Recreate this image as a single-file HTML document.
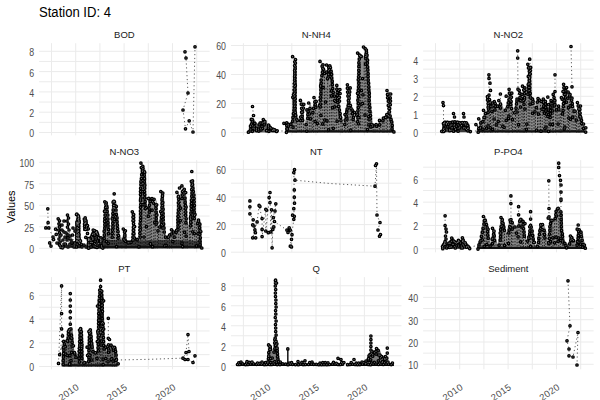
<!DOCTYPE html><html><head><meta charset="utf-8"><style>html,body{margin:0;padding:0;background:#fff;width:600px;height:400px;overflow:hidden}svg{display:block}text{font-family:"Liberation Sans",Arial,sans-serif}</style></head><body>
<svg width="600" height="400" viewBox="0 0 600 400">
<rect width="600" height="400" fill="#fff"/>
<path d="M39.1 132.5H209.6M39.1 112.2H209.6M39.1 91.9H209.6M39.1 71.6H209.6M39.1 51.3H209.6M39.1 122.35H209.6M39.1 102.05H209.6M39.1 81.75H209.6M39.1 61.45H209.6M51.5 43.2V135.4M75.7 43.2V135.4M99.9 43.2V135.4M124.1 43.2V135.4M148.3 43.2V135.4M172.5 43.2V135.4M196.7 43.2V135.4M231 132.5H401.5M231 103.5H401.5M231 74.5H401.5M231 45.5H401.5M231 118H401.5M231 89H401.5M231 60H401.5M243.4 43.2V135.4M267.6 43.2V135.4M291.8 43.2V135.4M316 43.2V135.4M340.2 43.2V135.4M364.4 43.2V135.4M388.6 43.2V135.4M423.1 132.5H593.6M423.1 114.4H593.6M423.1 96.3H593.6M423.1 78.2H593.6M423.1 60.1H593.6M423.1 123.45H593.6M423.1 105.35H593.6M423.1 87.25H593.6M423.1 69.15H593.6M423.1 51.05H593.6M435.5 43.2V135.4M459.7 43.2V135.4M483.9 43.2V135.4M508.1 43.2V135.4M532.3 43.2V135.4M556.5 43.2V135.4M580.7 43.2V135.4M39.1 248.3H209.6M39.1 226.8H209.6M39.1 205.3H209.6M39.1 183.8H209.6M39.1 162.3H209.6M39.1 237.55H209.6M39.1 216.05H209.6M39.1 194.55H209.6M39.1 173.05H209.6M51.5 160.1V252.3M75.7 160.1V252.3M99.9 160.1V252.3M124.1 160.1V252.3M148.3 160.1V252.3M172.5 160.1V252.3M196.7 160.1V252.3M231 252.2H401.5M231 224.6H401.5M231 197H401.5M231 169.4H401.5M231 238.4H401.5M231 210.8H401.5M231 183.2H401.5M243.4 160.1V252.3M267.6 160.1V252.3M291.8 160.1V252.3M316 160.1V252.3M340.2 160.1V252.3M364.4 160.1V252.3M388.6 160.1V252.3M423.1 248.75H593.6M423.1 225.45H593.6M423.1 202.15H593.6M423.1 178.85H593.6M423.1 237.1H593.6M423.1 213.8H593.6M423.1 190.5H593.6M423.1 167.2H593.6M435.5 160.1V252.3M459.7 160.1V252.3M483.9 160.1V252.3M508.1 160.1V252.3M532.3 160.1V252.3M556.5 160.1V252.3M580.7 160.1V252.3M39.1 366.5H209.6M39.1 342.8H209.6M39.1 319.1H209.6M39.1 295.4H209.6M39.1 354.65H209.6M39.1 330.95H209.6M39.1 307.25H209.6M39.1 283.55H209.6M51.5 277.1V369.3M75.7 277.1V369.3M99.9 277.1V369.3M124.1 277.1V369.3M148.3 277.1V369.3M172.5 277.1V369.3M196.7 277.1V369.3M231 365.75H401.5M231 345.75H401.5M231 325.75H401.5M231 305.75H401.5M231 285.75H401.5M231 355.75H401.5M231 335.75H401.5M231 315.75H401.5M231 295.75H401.5M243.4 277.1V369.3M267.6 277.1V369.3M291.8 277.1V369.3M316 277.1V369.3M340.2 277.1V369.3M364.4 277.1V369.3M388.6 277.1V369.3M423.1 364.3H593.6M423.1 342H593.6M423.1 319.7H593.6M423.1 297.4H593.6M423.1 353.15H593.6M423.1 330.85H593.6M423.1 308.55H593.6M423.1 286.25H593.6M435.5 277.1V369.3M459.7 277.1V369.3M483.9 277.1V369.3M508.1 277.1V369.3M532.3 277.1V369.3M556.5 277.1V369.3M580.7 277.1V369.3" stroke="#ebebeb" stroke-width="1" fill="none"/>
<text x="39" y="17" font-size="14" textLength="72" lengthAdjust="spacingAndGlyphs" fill="#000">Station ID: 4</text>
<text transform="translate(15.2 206.8) rotate(-90)" text-anchor="middle" font-size="11" fill="#000">Values</text>
<text x="124.35" y="38.3" text-anchor="middle" font-size="9.5" fill="#1a1a1a">BOD</text>
<text transform="translate(34.1 137.4) scale(0.88 1)" text-anchor="end" font-size="10" fill="#4d4d4d">0</text>
<text transform="translate(34.1 117.1) scale(0.88 1)" text-anchor="end" font-size="10" fill="#4d4d4d">2</text>
<text transform="translate(34.1 96.8) scale(0.88 1)" text-anchor="end" font-size="10" fill="#4d4d4d">4</text>
<text transform="translate(34.1 76.5) scale(0.88 1)" text-anchor="end" font-size="10" fill="#4d4d4d">6</text>
<text transform="translate(34.1 56.2) scale(0.88 1)" text-anchor="end" font-size="10" fill="#4d4d4d">8</text>
<text x="316.25" y="38.3" text-anchor="middle" font-size="9.5" fill="#1a1a1a">N-NH4</text>
<text transform="translate(226 137.4) scale(0.88 1)" text-anchor="end" font-size="10" fill="#4d4d4d">0</text>
<text transform="translate(226 108.4) scale(0.88 1)" text-anchor="end" font-size="10" fill="#4d4d4d">20</text>
<text transform="translate(226 79.4) scale(0.88 1)" text-anchor="end" font-size="10" fill="#4d4d4d">40</text>
<text transform="translate(226 50.4) scale(0.88 1)" text-anchor="end" font-size="10" fill="#4d4d4d">60</text>
<text x="508.35" y="38.3" text-anchor="middle" font-size="9.5" fill="#1a1a1a">N-NO2</text>
<text transform="translate(418.1 137.4) scale(0.88 1)" text-anchor="end" font-size="10" fill="#4d4d4d">0</text>
<text transform="translate(418.1 119.3) scale(0.88 1)" text-anchor="end" font-size="10" fill="#4d4d4d">1</text>
<text transform="translate(418.1 101.2) scale(0.88 1)" text-anchor="end" font-size="10" fill="#4d4d4d">2</text>
<text transform="translate(418.1 83.1) scale(0.88 1)" text-anchor="end" font-size="10" fill="#4d4d4d">3</text>
<text transform="translate(418.1 65) scale(0.88 1)" text-anchor="end" font-size="10" fill="#4d4d4d">4</text>
<text x="124.35" y="155.2" text-anchor="middle" font-size="9.5" fill="#1a1a1a">N-NO3</text>
<text transform="translate(34.1 253.2) scale(0.88 1)" text-anchor="end" font-size="10" fill="#4d4d4d">0</text>
<text transform="translate(34.1 231.7) scale(0.88 1)" text-anchor="end" font-size="10" fill="#4d4d4d">25</text>
<text transform="translate(34.1 210.2) scale(0.88 1)" text-anchor="end" font-size="10" fill="#4d4d4d">50</text>
<text transform="translate(34.1 188.7) scale(0.88 1)" text-anchor="end" font-size="10" fill="#4d4d4d">75</text>
<text transform="translate(34.1 167.2) scale(0.88 1)" text-anchor="end" font-size="10" fill="#4d4d4d">100</text>
<text x="316.25" y="155.2" text-anchor="middle" font-size="9.5" fill="#1a1a1a">NT</text>
<text transform="translate(226 257.1) scale(0.88 1)" text-anchor="end" font-size="10" fill="#4d4d4d">0</text>
<text transform="translate(226 229.5) scale(0.88 1)" text-anchor="end" font-size="10" fill="#4d4d4d">20</text>
<text transform="translate(226 201.9) scale(0.88 1)" text-anchor="end" font-size="10" fill="#4d4d4d">40</text>
<text transform="translate(226 174.3) scale(0.88 1)" text-anchor="end" font-size="10" fill="#4d4d4d">60</text>
<text x="508.35" y="155.2" text-anchor="middle" font-size="9.5" fill="#1a1a1a">P-PO4</text>
<text transform="translate(418.1 253.65) scale(0.88 1)" text-anchor="end" font-size="10" fill="#4d4d4d">0</text>
<text transform="translate(418.1 230.35) scale(0.88 1)" text-anchor="end" font-size="10" fill="#4d4d4d">2</text>
<text transform="translate(418.1 207.05) scale(0.88 1)" text-anchor="end" font-size="10" fill="#4d4d4d">4</text>
<text transform="translate(418.1 183.75) scale(0.88 1)" text-anchor="end" font-size="10" fill="#4d4d4d">6</text>
<text x="124.35" y="272.2" text-anchor="middle" font-size="9.5" fill="#1a1a1a">PT</text>
<text transform="translate(34.1 371.4) scale(0.88 1)" text-anchor="end" font-size="10" fill="#4d4d4d">0</text>
<text transform="translate(34.1 347.7) scale(0.88 1)" text-anchor="end" font-size="10" fill="#4d4d4d">2</text>
<text transform="translate(34.1 324) scale(0.88 1)" text-anchor="end" font-size="10" fill="#4d4d4d">4</text>
<text transform="translate(34.1 300.3) scale(0.88 1)" text-anchor="end" font-size="10" fill="#4d4d4d">6</text>
<text x="316.25" y="272.2" text-anchor="middle" font-size="9.5" fill="#1a1a1a">Q</text>
<text transform="translate(226 370.65) scale(0.88 1)" text-anchor="end" font-size="10" fill="#4d4d4d">0</text>
<text transform="translate(226 350.65) scale(0.88 1)" text-anchor="end" font-size="10" fill="#4d4d4d">2</text>
<text transform="translate(226 330.65) scale(0.88 1)" text-anchor="end" font-size="10" fill="#4d4d4d">4</text>
<text transform="translate(226 310.65) scale(0.88 1)" text-anchor="end" font-size="10" fill="#4d4d4d">6</text>
<text transform="translate(226 290.65) scale(0.88 1)" text-anchor="end" font-size="10" fill="#4d4d4d">8</text>
<text x="508.35" y="272.2" text-anchor="middle" font-size="9.5" fill="#1a1a1a">Sediment</text>
<text transform="translate(418.1 369.2) scale(0.88 1)" text-anchor="end" font-size="10" fill="#4d4d4d">10</text>
<text transform="translate(418.1 346.9) scale(0.88 1)" text-anchor="end" font-size="10" fill="#4d4d4d">20</text>
<text transform="translate(418.1 324.6) scale(0.88 1)" text-anchor="end" font-size="10" fill="#4d4d4d">30</text>
<text transform="translate(418.1 302.3) scale(0.88 1)" text-anchor="end" font-size="10" fill="#4d4d4d">40</text>
<text transform="translate(75.7 382.5) rotate(-35)" text-anchor="end" font-size="9.4" letter-spacing="0.4" fill="#4d4d4d" dominant-baseline="hanging">2010</text>
<text transform="translate(124.1 382.5) rotate(-35)" text-anchor="end" font-size="9.4" letter-spacing="0.4" fill="#4d4d4d" dominant-baseline="hanging">2015</text>
<text transform="translate(172.5 382.5) rotate(-35)" text-anchor="end" font-size="9.4" letter-spacing="0.4" fill="#4d4d4d" dominant-baseline="hanging">2020</text>
<text transform="translate(267.6 382.5) rotate(-35)" text-anchor="end" font-size="9.4" letter-spacing="0.4" fill="#4d4d4d" dominant-baseline="hanging">2010</text>
<text transform="translate(316 382.5) rotate(-35)" text-anchor="end" font-size="9.4" letter-spacing="0.4" fill="#4d4d4d" dominant-baseline="hanging">2015</text>
<text transform="translate(364.4 382.5) rotate(-35)" text-anchor="end" font-size="9.4" letter-spacing="0.4" fill="#4d4d4d" dominant-baseline="hanging">2020</text>
<text transform="translate(459.7 382.5) rotate(-35)" text-anchor="end" font-size="9.4" letter-spacing="0.4" fill="#4d4d4d" dominant-baseline="hanging">2010</text>
<text transform="translate(508.1 382.5) rotate(-35)" text-anchor="end" font-size="9.4" letter-spacing="0.4" fill="#4d4d4d" dominant-baseline="hanging">2015</text>
<text transform="translate(556.5 382.5) rotate(-35)" text-anchor="end" font-size="9.4" letter-spacing="0.4" fill="#4d4d4d" dominant-baseline="hanging">2020</text>
<path d="M287.8 349L287.8 363" stroke="#222" stroke-width="1.6" fill="none"/>
<path d="M248.5 132.5L248.5 131L249 126L251 121L252.5 118L254 119L256 122L258 124L260 121L262 121L264.5 119L266 122L268 125L270 124L272 127L274 128L276 129L277.5 131L277.5 132.5Z" fill="#666"/>
<path d="M285 132.5L285 132L285.5 122L286.8 123.6L288 121.5L289.5 123.6L291 121L292.5 110L293 70L294.5 56L296.5 62L297 112L298 119L299 119.6L300 118L301 112L302.4 100L303.5 112L304.5 124L306 118L307 108L308.3 107.9L310.3 102.4L312 108L313.5 104L315.6 97.6L317 106L318.5 107L319.5 80L320.5 75.6L321.6 61L323.5 66L324.5 71.1L325.5 69L326.5 77.1L327.6 64L329.5 66L331.2 65.2L333 71L334.5 88L336.5 100L337.5 101.1L338.6 85.6L339.5 102L341 109.6L343 124L345 112L347 102L348.9 84.4L350 100L352 105L353.1 111.5L354 110L354.9 117.2L356 121.6L356.5 100L357 70L358 55L359 52L361 54L363 56L364.1 58.5L365 46L366.5 48L368 52L369 60L370 80L371 100L372 115L372.5 122.8L374 124L375.5 125.3L377 123L378 123.9L380 119L381.6 119.7L383 116.8L384.4 116.6L386 113.2L388 112L389 90.4L390 105L391.5 115.6L393.5 122L394 132L394 132.5Z" fill="#8c8c8c"/>
<path d="M442 132.3L442 131.5L442.5 122L445 120.5L450 121L455 120.5L460 121L465 121L468 122L469.5 125L470 131.5L470 132.3Z" fill="#3a3a3a"/>
<path d="M476.5 132.5L476.5 132L477.5 124L478.6 127L480 118L481.2 120.7L483 116.8L484.8 109.6L486.5 112L488 96L489 96.4L490 110.9L491 99L492 102.4L493 109.8L494 102.4L495.6 101.2L497 104.8L499 104L500.4 100L502 103.6L504 109.6L506 106L508 96L509.2 101L510.5 89.2L512 100L514 112L515.5 100L517.5 97.6L519.5 98L521 90L522.1 104.1L523.3 87L524.4 85.6L526 94L527.5 80L529.7 64L531 71.2L532 100L534 99L534.9 107.2L536 101L538 99L539.5 97.6L541 100L543 100L545 98.8L546.1 116.5L547 101L548.4 117.1L549.7 96.9L551 102.4L553 100L555 94L556.5 104L558 107.2L560 106L561 113.6L562.4 96.4L564 97.6L565 84.4L566.5 97.6L568 95L569.6 91.6L570.6 97.7L571.5 94L573 100L575 109.6L577 111L577.9 116.4L579 102.4L581 112L583 120L583.9 127.1L585 124L585.5 132L585.5 132.5Z" fill="#8c8c8c"/>
<path d="M75.2 248.3L75.2 241L75.5 222L77.9 213.3L80 216L80.5 241L80.5 248.3Z" fill="#555"/>
<path d="M83 231L83 229L83.5 220L85.2 217.9L87.5 220L88.3 229L88.3 231Z" fill="#555"/>
<path d="M86.5 248.3L86.5 248L87 236L88.6 237.5L90 237.5L90.9 237.3L92 233L93 232.9L95 229.5L96 232.4L97.1 231.2L98 232L100 237.5L101.3 238.7L102.5 238L103.5 215L104.5 203L106.2 200.7L108 203L109.3 215L110.5 237L111.6 210L112.5 201L114.5 200L116 201L117.5 210L118.5 218L120 235L122 239L124 230L124.9 228.6L126 232L127 240L128.2 241L130 241L131.5 240L132.3 214L133.6 211L134.8 214L135.5 237L136.6 237.9L138.5 237L139.2 181.5L141 168L142.4 162.7L143.3 171.9L144.5 166L145.9 172L146.5 198L147.2 212L148 205L149 197L150.6 197.9L151.8 202.5L153.5 198L155.1 204.8L156 199L157.5 205L158.5 226L159.5 224.4L160.5 200L161.5 192L162.6 191L164 195L165 220L166 235.5L167.5 236L168.7 233.8L170 233L172 231L173 229L175 231.3L176.2 230L177 196L178.7 192L180 198.1L181 187.8L182.2 192.4L183.3 185.6L184.3 191.5L185.5 190L187 202L187.8 222L189 226L189.8 200L190.5 182L191.8 180L194 181L195.5 195L196.3 222L198 220L200 219.8L201.5 224L202 248L202 248.3Z" fill="#8c8c8c"/>
<path d="M87 248.3L87 241L110 240L140 240.5L170 240L202 241L202 248.3Z" fill="#3c3c3c"/>
<path d="M440.9 249L440.9 248.5L442 244L444 242L446 241L448 242L450 240L453.3 237.4L455 240L457 241L459 239L461 240L463.9 237.4L465 241L467 243L469.8 246L470 248.5L470 249Z" fill="#444"/>
<path d="M476.5 249L476.5 248.5L477.6 244.3L479.5 240L480.5 232L481.5 227.8L483 220L485 215.7L487 220L489 227.8L489.8 238L490.6 243.6L491.4 238L492.5 230L493.8 227.8L495.5 231L496.3 240L497.2 244.8L498.5 240L499.5 226L501 219L502.3 216.9L504 220L506 230L507 232.7L508 226L509.5 221L511.3 219.3L513.5 222L515 225.4L517.3 225.4L518.5 220L520 218.5L522.2 218.1L524.5 221L525.8 232L526.3 240L527.5 238L528.5 230L530.7 225.4L533 227L534.3 235L535.5 246L537 242L538.4 230L540 224L541.6 223L544 224.2L546 230L546.8 238L547.2 242.4L548 230L549.6 216.9L551.5 219L553.7 218L555 210L557.4 207.2L560 207.5L562.5 212L563.4 230L564.5 240L565.9 243.6L568.3 243.6L569.5 238L571.5 235.1L573.5 237L574.9 240L575.6 244.8L576.5 235L578 227.8L580.4 229L582.5 232L584 240L585.3 248.5L585.3 249Z" fill="#8c8c8c"/>
<path d="M61.5 366.5L61.5 364L62 350L63 343L64.5 340L66 341L67 331L68 329L70.3 328L72.5 329L73.2 335L73.8 346L74.5 352L76 352L77.5 358L78.3 335L79 328.5L80.9 327.7L82.5 328.5L83.2 335L83.6 358L84.5 361L87 361L87.6 340L88.3 330L90.3 328.9L92 329.5L92.6 336L93.5 346.5L95 351.2L96.5 351L97 320L97.5 300L98.5 292L100.6 289L102.5 290L103.5 295L104 315L104.6 330L105.5 345L106.5 352L107.5 345L110 344.2L111 346L112.3 344.2L114 346.5L116.5 347L117.5 355L118.2 364L118.2 366.5Z" fill="#6a6a6a"/>
<path d="M266.5 364L266.5 362L267.4 352.4L269 346L270.2 344.2L271.5 346L272.6 352L273.5 345L274.5 338L277 338L278.5 348L280 362L280 364Z" fill="#7d7d7d"/>
<path d="M366.3 364L366.3 362L367.5 355L369 353L370.5 352L372 350L375 350L378.1 347.5L380 350L381.3 354L383 355.5L384.4 357L386 357L387.3 356L388 362L388 364Z" fill="#7d7d7d"/>
<path d="M87 248.3L87 248L87.5 238L90 236L92 232L95 229.5L98 231L100 236L102.5 238L103 248L103 248.3Z" fill="#3a3a3a"/>
<path d="M75.2 248.3L75.2 241L75.5 222L77.9 213.3L80 216L80.5 241L80.5 248.3Z" fill="#444"/>
<path d="M286 124.7V132.5M287.7 123.3V132.5M289 126.6V132.5M290.8 124.1V132.5M292.9 82.9V132.5M295 77.1V132.5M296.4 68.1V132.5M297.9 120.5V132.5M299.7 120.6V132.5M301.3 111.1V132.5M303.4 114.6V132.5M305.1 124.5V132.5M307.2 112.1V132.5M309.3 110.2V132.5M311 110.2V132.5M312.3 111.6V132.5M313.7 104.6V132.5M315.7 100.7V132.5M317.3 112.9V132.5M319.1 96.4V132.5M320.8 82.5V132.5M322.8 67.3V132.5M324.5 76.6V132.5M326 87.9V132.5M327.7 76.7V132.5M329.7 85.1V132.5M331.3 78.9V132.5M333 81.8V132.5M334.9 97.3V132.5M336.7 105.8V132.5M338.8 99.4V132.5M340.9 116.6V132.5M342.3 122.5V132.5M344.5 120.5V132.5M345.8 109.8V132.5M347.5 99.5V132.5M348.9 86.5V132.5M350.8 110.1V132.5M352.9 112.3V132.5M354.8 120.4V132.5M356.1 121.4V132.5M358.3 60.3V132.5M360.4 63.9V132.5M362.1 79.1V132.5M364.2 61.7V132.5M365.8 61.3V132.5M367.3 56.1V132.5M368.9 75.8V132.5M370.1 91V132.5M371.7 111.9V132.5M373.2 126.1V132.5M375 126V132.5M377.1 126.3V132.5M379.3 122.1V132.5M380.8 120.5V132.5M382.8 119.5V132.5M384.1 119.6V132.5M386.2 118.8V132.5M387.7 114.1V132.5M389.8 108.1V132.5M391.7 117.6V132.5M392.9 123.7V132.5M477.5 125.5V132.5M478.8 126.6V132.5M480.9 124V132.5M482.7 122.2V132.5M484.5 113.6V132.5M485.8 112.7V132.5M487.8 101.4V132.5M489.3 105.7V132.5M490.5 108V132.5M492 109.9V132.5M493.6 109.2V132.5M495.7 107.2V132.5M497.8 110.7V132.5M499 108.5V132.5M500.7 109V132.5M502.2 111.2V132.5M503.9 111.9V132.5M506 107.7V132.5M508 99V132.5M509.2 103.9V132.5M511.2 106.4V132.5M512.4 107.8V132.5M514.1 117.4V132.5M515.5 106V132.5M517 107.7V132.5M518.5 108.6V132.5M520 98.9V132.5M521.9 106.8V132.5M523.2 98.6V132.5M524.4 97.9V132.5M526.3 101.6V132.5M528.2 82.2V132.5M529.8 73.5V132.5M531.9 98.1V132.5M534 100.3V132.5M535.4 107.9V132.5M537.5 105.5V132.5M539 108.2V132.5M540.5 104.8V132.5M542.2 108.4V132.5M544.2 106.7V132.5M545.7 113.7V132.5M547.1 110.5V132.5M548.9 114.9V132.5M550.3 104.8V132.5M552.3 107.4V132.5M553.6 104V132.5M555.7 101.9V132.5M557.1 108.7V132.5M559 114.2V132.5M560.3 110.5V132.5M561.8 108.1V132.5M563.5 99.9V132.5M565 88.3V132.5M567.2 105.3V132.5M568.5 106.1V132.5M569.8 98.4V132.5M572 105.7V132.5M573.9 109.1V132.5M575.3 115.2V132.5M576.6 113.1V132.5M578.2 114V132.5M579.8 113.5V132.5M581.7 118.5V132.5M583.5 126.2V132.5M87.5 238.6V248.3M88.9 239.2V248.3M90.7 239.6V248.3M92.4 234V248.3M94 236.6V248.3M95.4 234.7V248.3M97.1 233.7V248.3M99.3 237.7V248.3M101.3 240.2V248.3M102.5 240.9V248.3M104.2 208.5V248.3M105.8 208.5V248.3M107.7 205.1V248.3M109.1 224.5V248.3M111.1 225V248.3M112.6 207V248.3M114.5 209.9V248.3M116.5 216.1V248.3M118.3 224.2V248.3M120.2 239.3V248.3M121.9 242V248.3M123.8 236.7V248.3M125.1 235.2V248.3M126.3 238.7V248.3M128.1 243.1V248.3M130.3 243.1V248.3M131.9 233.5V248.3M134 219.5V248.3M135.5 239.6V248.3M137.2 241V248.3M138.7 226.4V248.3M140.4 182V248.3M142 185.2V248.3M144 181.4V248.3M145.7 176.2V248.3M147.2 213.8V248.3M148.9 207.4V248.3M150.2 212.7V248.3M151.7 214.9V248.3M153.8 214.3V248.3M155.2 210.7V248.3M157.3 205.3V248.3M158.5 230.7V248.3M160.2 218.8V248.3M162.2 201.5V248.3M164.4 213.1V248.3M166.1 239.2V248.3M167.7 238V248.3M169.5 235.9V248.3M171.7 235.8V248.3M173.4 231V248.3M175 234.3V248.3M176.7 215.6V248.3M178.8 209.6V248.3M180.5 201.4V248.3M182.3 209.7V248.3M183.9 199.4V248.3M185.9 196.9V248.3M187.4 223.6V248.3M189.4 218.8V248.3M190.7 200.5V248.3M192.6 198.1V248.3M194.8 205.5V248.3M196.4 224.1V248.3M197.9 225.4V248.3M199.6 222.4V248.3M477.5 246.3V249M479.6 241.1V249M481 236.3V249M483.1 227.2V249M484.6 219.3V249M486.1 219.6V249M487.3 226.4V249M488.9 232V249M490.5 243.7V249M492.4 235.6V249M494.1 232.8V249M496 241.2V249M498.1 244.2V249M499.7 228.5V249M501.3 228.4V249M502.9 222.5V249M504.5 224.5V249M506.7 232.9V249M508.5 232.2V249M509.9 226.8V249M511.5 222.7V249M512.9 223.3V249M515 231.9V249M517.1 226.8V249M519 223.4V249M520.8 224.4V249M522.3 228.2V249M523.5 227.3V249M525.6 234V249M527.4 242.4V249M528.8 234.1V249M530.7 229.1V249M532.7 230.4V249M534.4 239.2V249M536.3 245.4V249M538.1 236.3V249M539.5 231.1V249M541 231.4V249M542.7 230V249M544.4 229.7V249M545.8 231.2V249M547.9 235V249M549.6 223V249M551.7 222.1V249M553 226.9V249M554.7 220V249M556.7 220V249M558.8 208.9V249M560.4 219.4V249M562.4 214.2V249M563.7 235.3V249M565 243.2V249M567 245.4V249M568.7 242.9V249M570.3 241.5V249M572.2 238.5V249M573.9 241.5V249M575.8 243.6V249M577.7 232.4V249M579.4 231V249M581 232.8V249M582.6 233.5V249M584 242.5V249M62.5 351.4V366.5M64.5 343.7V366.5M66.3 345.9V366.5M68.3 329.9V366.5M70 329.3V366.5M71.3 338.7V366.5M72.9 339.9V366.5M74.6 354.5V366.5M76 354.6V366.5M78.1 347.5V366.5M79.6 330.3V366.5M81 336.9V366.5M82.7 338.3V366.5M84.7 362.2V366.5M86.6 362.1V366.5M88.6 332.9V366.5M90 340.8V366.5M91.6 332.9V366.5M93.7 351.7V366.5M95.8 353.9V366.5M97.5 320.3V366.5M99.2 314.4V366.5M100.6 309.3V366.5M102 302.9V366.5M103.2 298.1V366.5M105.3 346V366.5M107.3 348.9V366.5M108.9 346.2V366.5M110.6 351.8V366.5M112.3 347.8V366.5M114.5 352.9V366.5M116.3 348.4V366.5" fill="none" stroke="#111" stroke-width="0.9" stroke-dasharray="1.6 1.4"/>
<path d="M286 131.3H393M477.5 131.3H584.5M87.5 247.1H201M477.5 247.8H584.3M62.5 365.3H117.2M237 365H343.5M346 365H394" fill="none" stroke="#111" stroke-width="2.2"/>
<path d="M185 51.8L186 58L188 93L183 110L185.5 128.8L189.2 120.8L193 132L195 46.8M252.5 106.5L253.5 116M277.5 131L285 131M443 102.5L443.5 105.5L443.5 120M471 131L477 131M489 74.8L489 96M500.4 94L500.4 100M517.7 50.8L517.7 58L518 89.2L518 97.6M555 74.8L555 91.6M571 46.5L572 86.8M530 59L530 72M47.8 208.8L48.1 222.7L45.8 227.9L48.8 227.9L53 237L49.7 242.9L51 246.1L56.2 234.4L58.2 218.8L62 230L72.5 235L66 246L67.5 215L70 236L72 245.8L77.9 213.3M249.9 200.9L249.9 213.8L253.2 219.8L254.9 229.9L252.7 237.8L257.1 221.9L259.1 205.4L262.1 218.5L262.1 236.6L265.8 209.3L265.8 231L270 192.5L270.8 231.9L271.6 209.8L272.1 247.8L273.3 217.7L275.8 203.8L274.5 221.5L286.9 230.1M286.9 230.1L289.2 227.8L292 234.7L291.5 246.9L290.3 246.2L293.8 219.3L294.3 197.2L293.8 172.6L294.5 169.7L295 180.2L330 183.5L375 186.2L376.5 163.8L377 215L380 222.5L378 230L380.5 234.5M445.1 215.8L445.1 241M469.8 247L477.4 245.6M510.9 195.9L511 222M518.6 206.7L518.6 218M530.6 211.7L530.6 226M548.8 180.8L549 216.8M558.7 163.2L561 207M58.5 363.4L61.6 285.9L61.6 328.9L62.5 335.9L59.7 354.7L63 345M70.3 293.6L70.3 328M100.6 280.2L100.6 290M108.3 318.3L108.3 338.3M117 360L150 359.3L181.2 358.2M181.2 358.2L183 358.2L186 352.5L188 334.5L189 351.5L185 359.5L188 359.5L193 362.5L195 355.8M237 364.3L343 364.3M346 364.3L394 364.3M387.3 348.1L387.3 356M568 280.8L570 325.8L567 340.8L569 349L569 355.8L573 357L578 332.5L577 365" fill="none" stroke="#333" stroke-width="0.8" stroke-dasharray="1.2 2.7"/>
<path d="M185 51.8h0M186 58h0M188 93h0M183 110h0M185.5 128.8h0M189.2 120.8h0M193 132h0M195 46.8h0M250.1 131h0M250.7 126.4h0M251.6 124.1h0M252.3 121.8h0M251.3 119.4h0M252.3 119.7h0M254.8 123.4h0M259.2 124.8h0M260.1 123h0M263.1 122.3h0M263.3 119.5h0M264.8 122.8h0M268.5 126.3h0M268.5 125.1h0M271 128.6h0M273.3 129.4h0M274.7 129.8h0M277.2 130.8h0M248.4 132.2h0M250.5 126.1h0M250.8 129.2h0M252.6 125.8h0M252.9 128.3h0M252.3 131.3h0M254.4 129h0M254.2 126.3h0M254 128.1h0M256.6 130.6h0M256.3 129.2h0M256.6 128.3h0M258.8 131.1h0M258.5 129.2h0M260.7 128.3h0M261 129.9h0M262.4 128.4h0M262 126.4h0M262.2 123.2h0M264.8 121.9h0M264.2 124.8h0M264.9 121.4h0M266.5 130.7h0M266.8 130.5h0M268.4 128.1h0M268.9 131.3h0M270.2 127.5h0M272.5 130.4h0M274 130.5h0M276.6 131.5h0M252.5 106.5h0M253.5 115.5h0M286.4 132.3h0M286.9 128.9h0M286.8 125.6h0M283.9 123.3h0M288.2 124.4h0M286.7 122.8h0M290.9 124.2h0M292.7 121.1h0M293 117.4h0M293.4 113.7h0M294.1 109.9h0M294.4 106.6h0M294.3 103.2h0M294.2 99.7h0M294.2 96.4h0M294.5 93.4h0M294.3 90h0M294.8 86.5h0M294.7 83.3h0M294.6 80.2h0M294.6 76.7h0M294.8 73.6h0M294.6 70.4h0M295.2 66.8h0M295.4 63.1h0M295.5 59.5h0M292.6 56.7h0M294.7 61.8h0M294.6 65.6h0M295.1 68.8h0M294.8 71.9h0M294.8 75.3h0M294.8 78.7h0M294.9 82.3h0M295.3 85.4h0M294.9 89h0M295 91.9h0M294.8 95.3h0M295.2 98.7h0M295 102h0M294.9 105.2h0M295 108.6h0M295 112h0M295.7 115.6h0M297.2 120.5h0M300.7 120.6h0M301.8 118.5h0M302.6 112.1h0M303.4 108h0M303.8 104.3h0M300.4 100.4h0M301.3 104.2h0M301.6 108.3h0M301.6 112.2h0M302.1 116.3h0M302.7 120.3h0M306.2 124.6h0M307.8 118.3h0M307.9 114.6h0M308.1 111.4h0M306.9 109.9h0M310 108.5h0M308.7 103h0M313.6 108.3h0M315.3 104.7h0M316.2 101.4h0M314 97.6h0M314.8 101.9h0M315.8 107.3h0M320.3 106.9h0M320.5 104h0M320.4 100.2h0M320.6 97h0M320.9 93.6h0M320.9 89.9h0M320.7 86.7h0M321.2 83.3h0M321.2 80.1h0M321.9 75.6h0M322.5 72.2h0M322.8 68.3h0M323 64.8h0M320 61.4h0M322.1 66.2h0M326.3 72.1h0M323.5 69.2h0M324.5 73.5h0M328.2 77.1h0M328.3 74.2h0M328.6 70.7h0M328.8 67.4h0M326.6 65h0M330.4 67.5h0M329.8 65.8h0M331.1 71.4h0M331.6 74.3h0M331.6 77.9h0M332.2 81.2h0M332.3 84.7h0M332.7 88.5h0M333.2 92.4h0M334.4 96.1h0M335.5 101.3h0M339.5 101.1h0M339.4 97.3h0M340.1 93.5h0M339.9 89.5h0M336.8 85.4h0M336.8 89.2h0M337.1 92.5h0M337.3 95.4h0M337.6 98.6h0M337.8 102.6h0M338.8 106.3h0M339.4 110.1h0M340.1 113.5h0M340.4 116.8h0M341 120.6h0M344.8 124.4h0M345.2 120h0M346.3 116.1h0M346.7 112.2h0M347.2 109.1h0M348.3 105.5h0M348.8 102.1h0M349.1 98.6h0M349.3 94.9h0M349.7 91.9h0M350.2 87.9h0M347.4 84.8h0M347.4 88.2h0M347.6 92.1h0M347.9 96h0M348.3 100.5h0M350.4 105.5h0M351 108.5h0M354.4 112.4h0M352.2 110.1h0M352.5 113.7h0M353.5 117.3h0M357.7 121.7h0M358 117.9h0M357.7 114.3h0M357.9 110.8h0M358.3 107.4h0M358.3 103.4h0M357.9 100.2h0M358.5 96.7h0M358.4 93.1h0M358.3 90.3h0M358.6 86.9h0M358.8 83.2h0M358.3 79.8h0M358.6 76.8h0M358.9 73.5h0M358.8 70.3h0M358.9 66.4h0M358.9 62.8h0M359.3 59.1h0M359.7 55.4h0M357.6 53.1h0M359.9 55.3h0M361.2 56.4h0M365.8 58.7h0M366 54.3h0M366.4 50h0M363.5 47h0M365.2 48.7h0M366.5 52.2h0M366.7 56.1h0M367.6 60.2h0M367.4 63.1h0M367.6 66.9h0M367.8 69.9h0M368.1 73.7h0M368 76.5h0M368.2 80h0M368.6 83.2h0M368.8 86.9h0M368.8 89.9h0M369.3 93.3h0M369.3 96.6h0M369.1 100.3h0M369.4 104.1h0M369.8 107.4h0M369.9 111.3h0M370.4 115.4h0M370.3 118.9h0M371.3 124.4h0M372.7 125h0M376.7 126.2h0M376.1 124.5h0M379.7 124.8h0M379.5 120.4h0M382.9 120.7h0M383.4 118.2h0M386 117.2h0M386.8 114.6h0M389.5 111.8h0M389.7 108.4h0M390.3 104.7h0M390.5 101.1h0M390.3 97.9h0M390.7 94h0M387 90.5h0M387.5 94.4h0M387.6 97.7h0M388.3 101.2h0M388.3 105.4h0M389 108.5h0M389 112h0M390.1 116h0M391 119.5h0M391.7 121.9h0M392.2 125.5h0M392 128.9h0M393.9 131.9h0M287.4 129h0M288.5 126h0M293.5 94.7h0M292.8 97.3h0M293 127.2h0M295.3 112.5h0M295.3 115h0M296.8 119.3h0M300.6 117.1h0M302.7 109.6h0M306.8 131.1h0M309.5 113.9h0M310.6 118.8h0M312.9 112.6h0M315.1 121.5h0M317.3 123.4h0M319.3 105.7h0M320.9 115.4h0M320.7 85.4h0M322.7 123.9h0M323.1 87.5h0M325.5 102h0M324.7 120h0M327.5 78.7h0M327 120.9h0M329.4 69.6h0M328.8 74.7h0M328.7 129.8h0M331.4 90.9h0M331.4 95.9h0M333.3 128.3h0M332.6 107.7h0M334.7 106.9h0M334.6 100.5h0M337.1 121.2h0M338.5 106.5h0M340.7 117.5h0M345 114.6h0M346.9 118.9h0M348.6 94.6h0M349.2 105.4h0M350.8 130.2h0M353.1 119.4h0M357.5 93.3h0M356.7 115.2h0M358.5 123.8h0M358.9 117.5h0M361.4 90.5h0M360.7 56.6h0M361.1 104.2h0M362.6 103.5h0M362.9 94.8h0M362.6 78.5h0M365.4 56.6h0M365 115.1h0M365.5 64.1h0M367.4 129.5h0M367 55.1h0M368.9 124.8h0M369.1 119.2h0M368.7 116.5h0M370.9 126.9h0M372.7 126.2h0M385.4 117.4h0M387.3 114.8h0M388.6 115.6h0M389.1 116.7h0M389 94h0M389 104.8h0M349 90.4h0M349 94h0M349 97.6h0M338.6 90.4h0M338.6 97.6h0M443.7 131.5h0M444 128.4h0M444 125h0M443.4 123.5h0M444.7 122.3h0M447.5 122.4h0M450 122.7h0M452.4 122.2h0M454.8 121.9h0M457.3 122.4h0M459.7 122.8h0M462.2 122.8h0M464.6 122.6h0M466.2 122.8h0M467.7 125.4h0M467.8 128.6h0M470.3 131.6h0M441.7 131.3h0M444.5 130.6h0M443.7 129.5h0M444.4 123.2h0M446.3 123.6h0M446.4 124.6h0M446.3 123.4h0M448.4 124.2h0M447.8 126.9h0M447.8 122.6h0M449.7 130.7h0M450.2 130.4h0M449.7 129.4h0M452 128h0M451.9 130.2h0M452.1 127.5h0M453.6 131.2h0M454.1 125.7h0M454.3 124.5h0M454.5 127.4h0M456.3 126.2h0M455.7 128.9h0M455.5 129.6h0M458.1 131.2h0M458.1 128.3h0M457.8 122.3h0M459.6 127.9h0M459.9 127h0M460.4 123.7h0M462.2 122.7h0M461.5 125.6h0M461.6 125.6h0M464.1 127.7h0M463.7 128h0M464 123.7h0M465.7 124.1h0M465.6 128.2h0M466.4 129.5h0M465.9 125.1h0M468.1 127.9h0M467.9 128.5h0M467.9 130.8h0M443 102.5h0M443.5 105.5h0M453.5 113.5h0M454.5 117h0M463.5 113.5h0M464 117h0M478.2 132.2h0M478.8 128.5h0M475.9 124.6h0M480.4 127.3h0M480.8 122.9h0M478.7 118.8h0M482.8 121.7h0M484.8 117.3h0M485.5 113.5h0M483.5 110.3h0M488.1 112.3h0M488.6 109h0M488.6 105.7h0M489.1 102.6h0M489.3 99.5h0M487.6 97.4h0M487.4 96.7h0M487.5 100.1h0M488.1 103.5h0M488.1 107.2h0M491.9 111.3h0M492.1 106.8h0M492.4 103.1h0M489.5 99.5h0M490.4 102.8h0M490.8 106.3h0M495 109.9h0M495.3 106.3h0M495.2 103.5h0M494.3 101.7h0M497.4 106.2h0M500.5 104.3h0M498.8 100.6h0M500.5 104h0M505.3 110.3h0M507.8 106.6h0M508.3 102.8h0M509.2 99.6h0M506.2 96.2h0M511.1 101.4h0M511.4 97.2h0M511.8 93.2h0M509.1 89.3h0M509.4 93.2h0M510 96.6h0M510.2 100.3h0M510.8 104.5h0M511.6 108.5h0M515.5 112.1h0M516 108.2h0M516.5 103.9h0M516.9 101h0M517 99.1h0M521.2 98.3h0M522 94.4h0M519.2 90.4h0M519.8 93.4h0M520 97.4h0M520.3 100.5h0M524 104.3h0M523.7 100.5h0M524.6 97.5h0M524.4 93.7h0M524.6 90.4h0M524.9 87.9h0M522.5 86.2h0M523.7 89.9h0M527.9 94.2h0M528.2 90.8h0M528.7 87.4h0M529 83.5h0M529.3 80.3h0M529.8 77h0M530.3 73.9h0M530.4 70.5h0M530.7 67.4h0M527.8 64.3h0M528.5 67.9h0M529.3 71.3h0M529.6 74.2h0M529.7 77.6h0M529.7 81h0M529.9 84h0M529.8 87.5h0M529.7 90.5h0M530.2 93.4h0M530.3 97h0M533 101.4h0M532.6 99.2h0M532.8 103.5h0M536.3 107.7h0M537.3 102.1h0M539.4 100.2h0M538 98.5h0M541.2 101.5h0M543.8 101.4h0M543.3 99.1h0M543.4 102.6h0M543.7 106h0M543.8 109.6h0M544.4 113.2h0M547.9 116.5h0M547.9 112.6h0M548.3 109h0M548.6 104.7h0M545.4 101.4h0M545.6 104.1h0M545.7 107.3h0M545.9 111h0M546.5 114.1h0M550.2 117.4h0M550.4 113.9h0M550.6 110.6h0M550.8 107.2h0M550.8 103.8h0M551.1 100.5h0M547.8 97.1h0M552 103.7h0M554.9 100.6h0M553.2 94.4h0M554 97.6h0M554.2 100.8h0M554.9 104.6h0M558.8 108.7h0M558.6 106h0M558.9 109.8h0M562.5 113.9h0M563.1 110.5h0M563.3 106.6h0M563.5 103.5h0M564.1 100.3h0M561.4 97.7h0M565.5 97.8h0M565.8 94.2h0M565.9 90.8h0M566.6 87.6h0M563.6 84.3h0M563.9 87.7h0M563.8 91.3h0M564.3 94.6h0M567.8 98.2h0M569.7 95.9h0M568.1 92h0M572 98.2h0M570 94.4h0M571.6 100.2h0M572.3 103.7h0M572.4 106.5h0M574.1 111.2h0M575.1 111.2h0M579.8 116.3h0M580.1 113h0M579.9 109.4h0M580.5 106h0M577.4 102.5h0M578.2 105.9h0M578.8 109.2h0M579.3 112.3h0M580.5 116.7h0M581.5 120.3h0M581.7 123.5h0M585.8 127.8h0M583.5 124h0M583.6 128.4h0M585.7 132.1h0M480.4 128.1h0M482.9 129.2h0M484 117.4h0M486.6 128.2h0M488 125.9h0M488.8 127h0M490.3 127.8h0M492.7 129.4h0M494.1 119h0M496.2 124.9h0M498.2 121.4h0M500.5 107.9h0M502.8 126.3h0M504.1 127.4h0M506.2 120.4h0M508.9 116.2h0M508.5 118.4h0M510.2 98.1h0M512.4 119.7h0M514.5 112.8h0M517 112h0M518.6 124.7h0M520.6 107h0M522 101.1h0M524.9 109h0M524.6 99.1h0M526.4 129.3h0M526.8 124.1h0M528.3 76.4h0M528.2 84.6h0M530.1 104.2h0M530.9 98.1h0M532.9 103.2h0M532.6 113.3h0M535 111.8h0M536.6 130.2h0M538.4 114.1h0M541 131.2h0M542 109.2h0M544.9 128.6h0M546 127.1h0M548.6 131.3h0M550.1 124.2h0M552.7 110.9h0M552.6 124.4h0M554.3 105.9h0M556.5 109.9h0M558.1 124.1h0M562.2 99.2h0M564.2 128.9h0M564.9 127.2h0M566.4 102.2h0M568.8 118.1h0M568.5 107.7h0M570.5 119.3h0M570.1 105.9h0M572.7 117.2h0M576.3 120.1h0M580.8 117.9h0M488.9 74.8h0M489 78.4h0M490 83.2h0M490.5 90.4h0M489 95.2h0M500.4 94h0M517.7 50.8h0M517.7 58h0M518 89.2h0M529.7 59.2h0M529.5 78.4h0M530 68h0M555 74.8h0M555 91.6h0M563 91.6h0M571 46.5h0M572 86.8h0M579 108.4h0M47.8 208.8h0M48.1 222.7h0M45.8 227.9h0M48.8 227.9h0M55.6 229.2h0M56.2 234.4h0M53 237h0M53.6 239.5h0M49.7 242.9h0M51 246.1h0M58.2 218.8h0M59.5 220.8h0M59 224h0M59.5 227h0M58.8 230h0M59.5 233h0M60 236h0M59 239h0M60 242h0M59.5 245h0M61 247.5h0M62 230h0M64 232h0M66 233h0M68 235h0M70 236h0M72.5 235h0M63 240h0M64 244h0M66 246h0M62.5 247.8h0M67.5 215h0M68.5 218h0M67 221h0M68.5 224h0M67.5 227h0M69 230h0M68 238h0M69.9 244.2h0M68 247h0M71 240h0M72 245.8h0M74 247h0M81.3 244.3h0M80 240.4h0M87.5 233.4h0M85.2 217.9h0M86 221h0M84.5 224h0M86.5 227h0M85.5 229.5h0M89.5 245h0M91 247h0M94 246h0M97 247.5h0M76.8 241.3h0M76.7 238.1h0M76.7 234.9h0M77.2 231.4h0M77.1 228.2h0M77 225h0M77.1 222.7h0M78.2 219.8h0M78.5 216.5h0M76.8 214.1h0M78.4 215.9h0M78.7 218.9h0M78.6 222.2h0M78.3 225.1h0M78.7 228.5h0M78.4 231.6h0M78.9 234.6h0M78.8 237.7h0M80.3 241.2h0M74.9 242.9h0M77.3 232.2h0M77 223.5h0M77.3 238.5h0M77.5 234.8h0M78.8 239.1h0M79.1 238.7h0M78.8 241.5h0M79 242.4h0M84.9 229.1h0M84.6 226.3h0M85 223.3h0M84.7 220.9h0M84.3 219.1h0M85.6 220.1h0M86.1 222.9h0M86.4 226.1h0M88.3 228.8h0M85.4 223h0M85.2 223.6h0M86.6 228.9h0M87.5 225.5h0M88.3 248.1h0M88.3 244.4h0M88.6 239.8h0M85.8 237.4h0M88.5 239.3h0M90 239.1h0M92.8 237.8h0M92.4 234.5h0M94.4 233.8h0M93.2 230.1h0M97.2 233.9h0M96 232.5h0M96.2 232.4h0M99 238.5h0M102 240h0M104.2 238.3h0M104.4 235h0M104.2 231.2h0M104.8 228.1h0M104.9 224.8h0M104.7 221.5h0M104.8 218.6h0M105.2 215.1h0M105.5 211.1h0M105.6 207.4h0M105.9 204.3h0M104.8 201.8h0M106.2 202.9h0M107 207.4h0M107.1 211.4h0M107.8 215h0M107.9 219h0M108 222.7h0M108 226h0M108.5 229.6h0M108.5 233.7h0M112.2 237.2h0M112.2 233.5h0M112.4 230.1h0M112.9 226.8h0M112.8 223.3h0M112.9 220.1h0M113 216.6h0M112.9 213.6h0M113.2 210h0M113.6 205.5h0M113.1 202.2h0M113.7 201.3h0M114.1 201.4h0M114.8 205.6h0M116 210h0M116.3 214.4h0M117 217.9h0M117 221.7h0M117.3 225.2h0M117.5 228.6h0M118 231.6h0M118.5 235.5h0M123.8 239.2h0M124.9 234.9h0M125.4 230.8h0M123.3 229h0M124.5 232h0M124.8 236.2h0M125.7 241.4h0M128.1 242.8h0M131 242.3h0M133.1 239.8h0M133.1 237h0M133.3 233.6h0M133.3 230.3h0M133.5 227.1h0M133.6 223.5h0M133.7 220.4h0M133.7 217.4h0M133.7 214.6h0M132.3 211.8h0M133.3 214.3h0M133 217.2h0M133 220.7h0M133.5 223.8h0M133.4 227.3h0M133.7 230.3h0M133.9 233.7h0M134.5 238.1h0M137.2 239.7h0M140.3 237.1h0M140 233.5h0M140.1 230.3h0M140.2 227.2h0M140.1 223.8h0M140.5 220.5h0M140.7 217.5h0M140.6 214h0M140.5 211h0M140.5 207.3h0M140.8 204.5h0M140.5 200.8h0M140.9 197.9h0M140.5 194.4h0M140.5 191.5h0M140.6 188.3h0M141 184.5h0M141 181.7h0M141.5 178.5h0M141.7 174.7h0M142.5 171.6h0M142.9 168.5h0M140.9 163.1h0M141.3 167.5h0M144.7 172.4h0M142.8 166.4h0M144.5 171.8h0M144.4 175h0M144.5 178.7h0M144.3 181.8h0M144.8 185.1h0M144.6 188.1h0M144.4 191.5h0M144.7 194.6h0M144.7 197.9h0M145.1 201.7h0M145 204.9h0M145.3 208.6h0M149.2 212.1h0M149.2 208.9h0M149.5 205.2h0M150.1 201.4h0M148.2 198.6h0M148.8 198.4h0M153.5 203.1h0M152 198.6h0M152.4 201.6h0M156.7 204.8h0M154.1 199.3h0M155.6 205.2h0M155.9 208.3h0M156 212.1h0M156.2 215.4h0M156.2 218.8h0M156.9 222.7h0M159.7 227h0M161.5 224.5h0M161.1 221h0M161.4 217.3h0M161.7 213.7h0M162 210.6h0M162 207.3h0M162.1 203.4h0M162 200h0M162.4 196.4h0M162.8 193.1h0M160.8 191.6h0M162.5 195.3h0M162.2 198.8h0M162.8 202.4h0M162.6 205.6h0M163.1 209.2h0M162.9 213h0M163.1 216.7h0M163.1 219.8h0M163.6 224.1h0M164 228h0M164.3 232h0M165.5 237.1h0M168.8 236.7h0M169.6 235h0M171.3 234h0M173.5 232h0M171.5 229.8h0M176.2 232.3h0M178 229.7h0M178.2 226.9h0M178.2 223.2h0M178 219.9h0M178.2 216.4h0M178.2 213h0M178.5 209.8h0M178.7 206h0M178.4 202.8h0M178.7 199.3h0M178.4 196.4h0M176.9 192.3h0M182 198.5h0M182.3 195.1h0M182.6 191.5h0M179.5 188h0M184 192.8h0M184.3 189.3h0M181.9 185.9h0M185.7 192.5h0M183.7 190.4h0M184 194h0M184.9 198.2h0M185.1 202.2h0M185.4 205.4h0M185.5 208.8h0M185.7 212h0M185.6 215.2h0M186.2 218.8h0M185.9 222.7h0M190.6 225.8h0M190.8 222.7h0M190.9 219.6h0M190.8 216.3h0M190.9 213.1h0M191.3 209.6h0M191.2 206.3h0M191.4 203.5h0M191.5 200.2h0M191.8 196.2h0M192.1 193h0M191.7 189.5h0M192 185.5h0M192.2 183h0M191.3 181.3h0M192.5 180.9h0M192.5 184.6h0M192.8 188.2h0M193.3 191.6h0M193.9 195h0M194.1 198.5h0M194.2 201.8h0M194.4 205.4h0M194 208.7h0M194.2 212.1h0M194.5 215.5h0M194.3 218.6h0M197.7 223.4h0M198.3 221.4h0M198.5 220.1h0M199.8 224.2h0M199.6 227.7h0M200 230.7h0M199.8 234.3h0M200.3 237.8h0M199.9 240.9h0M200 244.8h0M201.8 248h0M88.4 240.1h0M90.5 244.7h0M92.9 234.6h0M100.8 239.8h0M104.7 221.3h0M104.5 211.3h0M106.4 241.6h0M106.6 206h0M108.2 243.3h0M112.2 218.7h0M114.6 219.3h0M114.4 201.8h0M116.3 206.4h0M116.5 246.7h0M118.1 238.2h0M124.3 240.2h0M129 242.7h0M132.9 240h0M134.6 226.6h0M138.9 246.8h0M140.3 229.8h0M140.7 210.9h0M140.6 199.2h0M142.4 170.1h0M142.3 191.7h0M143 204.7h0M144.2 186.2h0M144.3 178.3h0M144 237h0M146.4 226.7h0M146.3 207.6h0M148.3 216.3h0M150.6 244.3h0M150.3 243.5h0M152.1 210.2h0M152.6 246.7h0M154.8 222.4h0M156.1 224.2h0M156.9 214.9h0M158 230.8h0M160.7 211.5h0M162.2 225.6h0M162.9 228h0M164.7 245.9h0M166.1 245.4h0M168.3 237.3h0M172.9 241.6h0M174.2 237.2h0M176.6 230.3h0M178.3 197h0M178.4 196.4h0M180.3 220.6h0M180.6 208.1h0M182 243.2h0M182.6 246.6h0M184.6 232.3h0M186.1 207h0M186.1 236.2h0M190.4 217.9h0M190.6 218.9h0M190.7 221.9h0M192.7 198.7h0M192.7 231.8h0M194.3 233.6h0M195 214.4h0M196.5 245.9h0M198 233.7h0M200.8 231.6h0M191.8 171.5h0M114.2 193.8h0M249.9 200.9h0M249.9 206.8h0M249.9 213.8h0M253.2 219.8h0M252.7 224.9h0M254 226h0M254.9 229.9h0M255.4 232.7h0M252.7 237.8h0M255.7 237.8h0M257.1 221.9h0M259.1 205.4h0M259.9 206.4h0M262.1 218.5h0M262.1 229.4h0M262.1 236.6h0M265.8 209.3h0M266.6 210.1h0M265.8 231h0M268.3 232.7h0M270.8 231.9h0M270 192.5h0M269.1 197.6h0M270 202.6h0M271.6 209.8h0M275 211h0M275.8 203.8h0M273.3 217.7h0M274.5 221.5h0M273.8 226.9h0M272.8 229.4h0M272.1 247.8h0M294.5 169.7h0M293.8 172.6h0M295 180.2h0M294.3 189.9h0M294.3 197.2h0M294.5 203.2h0M293.8 208.7h0M292.6 215.2h0M294.3 216.3h0M293.8 219.3h0M289.2 227.8h0M286.9 230.1h0M288 232.4h0M290.3 230.1h0M292 234.7h0M291.5 239.3h0M290.3 246.2h0M291.5 246.9h0M375 186.2h0M376.5 163.8h0M375.5 165.5h0M377 215h0M380 222.5h0M378 230h0M380.5 234.5h0M379.5 236.2h0M445.1 215.8h0M445.1 225.6h0M446 229h0M446.5 232h0M445.5 236h0M446 239h0M445 241.5h0M442.8 248.7h0M443.4 245h0M444.5 243.3h0M445 242.5h0M449.2 243h0M451.3 241.3h0M451.7 238.1h0M454.4 241.8h0M458 241.9h0M458.4 240.4h0M462.4 241.3h0M462.4 237.8h0M464 242.2h0M465.7 244.4h0M467.9 246.3h0M469.7 248.6h0M442.5 246.5h0M442.8 247.7h0M445 244.2h0M444.7 244.3h0M444.8 244.2h0M447.2 246.2h0M446.7 248h0M449 243.4h0M449.3 247.3h0M451.2 246.7h0M450.7 243.2h0M450.9 247.2h0M453.1 244.5h0M452.9 244.3h0M453.3 241.1h0M454.8 246.5h0M455.3 242.6h0M455.3 248h0M456.4 243.1h0M457.4 242.5h0M458.6 246h0M458.5 241.8h0M459.1 241.3h0M461.3 246.1h0M461.3 247.9h0M460.4 243h0M463.1 240.1h0M462.9 241.7h0M462.8 240.7h0M462.4 247.9h0M465.3 242.9h0M464.9 243h0M466.6 246.9h0M466.5 247.1h0M468.5 247.1h0M478 249.1h0M479 244.9h0M481 240.4h0M481.4 236.3h0M482.4 232.2h0M483.1 228.3h0M484 224.1h0M484.3 220.7h0M483.4 216.5h0M485.2 220.4h0M486.4 224.5h0M487.2 227.9h0M487.6 231.6h0M487.7 235h0M488.2 238.2h0M492.4 243.7h0M492.8 238.4h0M493.6 234.2h0M494 231.1h0M492.5 228.3h0M493.9 231.1h0M494.2 235.9h0M494.6 240.3h0M499.1 245.2h0M500.2 240.1h0M500.6 236.7h0M500.8 233.1h0M500.7 229.7h0M501.2 226.5h0M502.1 222.6h0M502.3 219.6h0M501 217.5h0M502.1 220.5h0M503 223.4h0M503.8 227.1h0M504.4 230.3h0M508.8 232.9h0M509.2 229.9h0M509.8 226.7h0M510.5 222.1h0M510 220.1h0M512.2 222.6h0M514.9 227h0M518.8 226h0M519.7 221.2h0M520.3 219.9h0M520.8 219.4h0M523 221.4h0M523.1 224.7h0M523.4 228.6h0M524 232.1h0M524.3 236.2h0M527.7 241.1h0M529 238.5h0M529.7 233.9h0M529.9 230.8h0M529.7 226.8h0M531.2 227.1h0M532.1 231.1h0M532.7 235.4h0M533.1 238.8h0M533.7 242.5h0M537.3 246.3h0M538.6 242.3h0M538.9 238.4h0M539.4 234.3h0M539.9 230.7h0M540.9 225.6h0M540.8 224.6h0M542.5 224.6h0M544.1 230.4h0M544.5 234.4h0M544.9 237.9h0M548.7 242.7h0M549.4 238.3h0M549.5 234.1h0M549.9 230.3h0M549.9 226.7h0M550.6 223.4h0M551.1 220.3h0M548.2 218.1h0M552.1 220.6h0M555.2 218.5h0M555.9 214.5h0M556.1 211.3h0M557.5 208.8h0M558.2 208.3h0M560.9 211.9h0M561 215.4h0M561.1 219.4h0M561.3 223h0M561.3 226.7h0M561.5 230.4h0M562.4 233.8h0M562.5 236.7h0M562.8 240.8h0M565.9 245.6h0M569.7 243.9h0M571.1 239h0M570.4 236.1h0M571.7 237.6h0M573.5 240.5h0M577.1 245.2h0M577.3 241.7h0M578.2 238.3h0M578.4 235.4h0M578.6 231.6h0M577.2 229.2h0M579.2 229.8h0M581 232.2h0M581.3 236.3h0M582.1 240.3h0M583.1 244.6h0M585.3 248.2h0M480.1 241.9h0M482.4 239.9h0M484.2 246.3h0M486.8 244.5h0M488.1 229.3h0M490.1 246.2h0M492.1 239.2h0M500.2 233h0M502.1 225.8h0M504.5 245.4h0M508.5 243.4h0M510.7 227.6h0M512.2 229.1h0M516.5 233.1h0M518.1 236.8h0M520.6 241.9h0M522.1 226.9h0M525 223.6h0M528.8 237.1h0M530.5 246.4h0M534.4 242.3h0M540.7 228.6h0M542.1 229.5h0M549 243.7h0M550.5 241.7h0M552.8 237.8h0M554.6 242.8h0M556.1 237.2h0M556.3 216h0M558.7 238h0M558.1 241.3h0M560.9 238.3h0M560.8 240.5h0M562.4 242h0M564.9 243.4h0M566.5 247.8h0M570.8 240.6h0M572.2 239.6h0M578.9 242.2h0M580.4 244.2h0M582.7 247.2h0M584.4 245.1h0M510.9 195.9h0M510.9 203.6h0M511 219.5h0M518.6 206.7h0M518.6 214.8h0M530.6 211.7h0M530.6 219.1h0M530.6 225.3h0M548.8 180.8h0M549 208.5h0M549 216.8h0M558.7 163.2h0M558.7 167.4h0M559.5 175.6h0M560.5 180.3h0M561 185h0M561 192.1h0M561 199.1h0M561 200.3h0M578.2 225h0M58.5 363.4h0M61.6 285.9h0M61.6 313.6h0M61.6 328.9h0M62.5 335.9h0M59.7 354.7h0M63.2 364.3h0M63.2 360.7h0M63.5 357h0M63.6 353.7h0M63.9 350.2h0M64.1 347h0M64.3 344h0M63.7 341.4h0M67.7 341.3h0M68.3 338h0M68.5 334.2h0M68.4 331.5h0M68.9 330.8h0M69.4 329.6h0M70.9 328.9h0M71.4 335.2h0M71.8 338.6h0M72.1 342.3h0M72.1 346.1h0M74.8 353.8h0M74.5 352.5h0M79.1 358.3h0M79.4 354.9h0M79.3 351.3h0M79.6 348.4h0M79.8 344.8h0M79.6 341.6h0M80.1 338.1h0M80.1 335h0M80.2 331.7h0M79.5 330h0M80.4 329.5h0M80.6 328.6h0M81.4 331.8h0M81.4 335h0M81.3 338.2h0M81.6 341.5h0M81.9 344.7h0M81.6 348.4h0M81.8 351.7h0M81.9 354.9h0M81.9 358.3h0M84.7 362.7h0M88.7 361.2h0M89 357.4h0M88.8 354.3h0M89 350.4h0M89.2 346.9h0M89.4 343.3h0M89.5 340.2h0M89.4 337h0M89.6 333.3h0M88.9 331.5h0M89.9 330.6h0M90.3 329.8h0M90.4 332.8h0M91 336.4h0M91.3 339.8h0M91.7 343.1h0M92.1 347.2h0M95.1 352.8h0M98.4 350.9h0M98.1 347.8h0M98.3 344.2h0M98.5 340.9h0M98.2 337.2h0M98.2 333.8h0M98.5 330.6h0M98.7 327h0M98.6 323.5h0M98.6 320.2h0M99 316.9h0M98.7 313.5h0M99.1 310h0M99.3 306.9h0M99.3 303.6h0M99.3 300.4h0M99.5 296.3h0M100 293h0M99.7 290.2h0M100.9 290.5h0M101.7 294.9h0M101.7 298.1h0M102.1 302h0M102.2 305h0M102.3 308.1h0M102.4 311.6h0M102 315.1h0M102.2 318.7h0M102.3 322.5h0M102.8 326.5h0M102.6 330.3h0M102.9 333.7h0M103.4 337.5h0M103.5 341.4h0M103.6 345.4h0M104.1 348.9h0M108.4 352.3h0M108.4 348.9h0M107.7 346.6h0M108.5 344.8h0M112.5 347.1h0M111 345.2h0M113.7 348.2h0M114.6 347.4h0M115.6 351.4h0M116.1 355h0M116.4 359.4h0M118.2 363.8h0M63.7 353.5h0M63.3 347.7h0M65.3 346.7h0M65.7 354.2h0M67.2 355.4h0M67.2 340.5h0M69.7 364.5h0M69.7 363.7h0M69.9 355.6h0M71.1 337.3h0M71 360.7h0M71.7 352.4h0M73.4 345.8h0M76 357.2h0M79.4 361.9h0M79.8 346h0M81.1 335h0M81.8 346.5h0M83.9 363.1h0M87.1 347.2h0M87.6 355.4h0M89.3 331.6h0M89.9 355.5h0M92 346h0M91.7 344.1h0M91.8 360h0M93 351.7h0M95.4 352.8h0M97.8 331.2h0M97 358.4h0M97.5 306h0M97.3 341.5h0M97.9 332.5h0M99.2 309.9h0M99.9 320.2h0M99.1 335.5h0M99.1 306.8h0M99.5 335.1h0M101.7 323.7h0M101.1 345h0M101.1 326.1h0M101.4 341.1h0M101.7 308.8h0M103.7 329h0M103.1 359.2h0M103.6 300.8h0M103.2 364.6h0M103.2 323.6h0M105.8 358.5h0M105.7 347.2h0M108 361.8h0M109 350.6h0M111.2 359.4h0M111.9 358.7h0M113.3 350.1h0M113 361.1h0M116 360.5h0M70.3 293.6h0M70.3 300h0M70.3 306.1h0M70.3 311.7h0M70.3 317.8h0M70.3 324.2h0M100.6 280.2h0M100.6 286.6h0M101.8 291.3h0M99.4 304.2h0M101.8 305.4h0M102.5 311.3h0M108.3 318.3h0M108.3 338.3h0M109.5 339.5h0M183 358.2h0M185 359.5h0M186 352.5h0M188 334.5h0M189 351.5h0M188 359.5h0M193 362.5h0M195 355.8h0M237.5 364.5h0M238.7 362.9h0M239.8 364.5h0M242.7 363.9h0M245.4 364.6h0M246.6 363h0M248 364.5h0M249.2 362.4h0M250.7 364.1h0M251.9 362.4h0M253.5 363.9h0M256.3 364.3h0M257.5 363h0M258.7 364.2h0M259.9 363.3h0M261.3 364.2h0M262.5 363.1h0M264.2 364.6h0M265.4 362.7h0M266.6 364.5h0M267.8 362.9h0M269.6 364.5h0M270.8 362.5h0M271.9 364.5h0M273.1 362.9h0M274.5 364.2h0M277.2 364.6h0M280 364.6h0M282.8 363.9h0M285.7 364.2h0M288 364.7h0M289.2 363h0M290.4 364.1h0M291.6 362.7h0M292.7 364.3h0M295.4 364.6h0M298.3 364.7h0M300.7 364.1h0M301.9 362.4h0M303.1 364.6h0M305.6 364.5h0M308.5 364.5h0M309.7 362.5h0M311.3 364.2h0M313.8 364.3h0M316.2 364.3h0M318.8 364.7h0M320 363.2h0M321.6 364.7h0M322.8 362.6h0M324 364.6h0M325.2 362.6h0M326.8 364.7h0M328 362.8h0M329.5 364.5h0M332.3 364.1h0M333.5 362.4h0M335.1 364.1h0M336.3 363.3h0M337.8 364.4h0M340.5 364.5h0M341.7 362.5h0M342.7 363.9h0M343.9 362.5h0M347.6 364.7h0M350 364.5h0M351.2 362.5h0M352.5 364.2h0M355 364.5h0M356.2 363.2h0M357.5 364.6h0M358.7 363.1h0M359.9 364.6h0M362.6 364.1h0M363.8 362.6h0M365.5 364h0M368.2 364.4h0M369.4 362.5h0M370.5 364.7h0M371.7 363h0M373.1 364.1h0M374.3 362.4h0M376 364h0M378.5 364.5h0M379.7 363.1h0M380.9 364.2h0M382.1 362.5h0M383.3 364.5h0M384.5 362.7h0M386.1 364.1h0M387.3 362.6h0M388.6 364.2h0M391.2 364.6h0M392.4 363h0M241 362h0M247 361.5h0M252 362h0M262 362h0M298 361.5h0M305 360.8h0M312 362h0M338 358.3h0M341 359.5h0M354 359.5h0M362 362h0M366 361h0M268 361.9h0M268.5 358.7h0M268.8 355.9h0M268.8 352.6h0M269.8 349.4h0M270.3 346.9h0M268.6 344.9h0M269.7 346.3h0M270.6 349.3h0M274 352.1h0M274.9 348.8h0M275.4 345.5h0M275.9 341.5h0M274.8 339.7h0M275.2 338.1h0M276 341.4h0M276.1 344.8h0M277.1 348.2h0M277.2 350.7h0M277.4 353.7h0M277.5 356.7h0M277.9 359.2h0M280.3 362h0M268.7 356.4h0M270.5 358.6h0M272.2 358h0M274.7 342.9h0M274.8 361.7h0M276.9 348.1h0M276.9 343.8h0M278.6 361.7h0M275.4 280.5h0M275.5 283h0M275.3 286h0M275.7 289.5h0M275.4 293h0M275.5 296.5h0M275.9 300h0M275.8 303.5h0M276.1 307h0M275.6 310.5h0M275.8 314h0M275.3 317.5h0M276.1 321h0M275.5 324.5h0M275.7 328h0M275.7 331.5h0M276.1 335h0M275.6 280.2h0M276.5 283h0M287.8 348.9h0M368 362.6h0M368.6 358.6h0M369.1 355.8h0M370.2 354.4h0M371.7 353.3h0M371.9 351.6h0M376 351.4h0M376.5 348.5h0M378.2 350.7h0M379.9 355.3h0M381.6 356.6h0M384.4 358.8h0M386.8 358.2h0M385.4 356.5h0M385.8 359h0M388 362h0M365.9 363.4h0M368.4 358.9h0M370.7 359.8h0M372.8 354.6h0M372.7 356.2h0M374.7 352.7h0M376.1 354.1h0M378.7 355h0M378.3 360.9h0M380.5 357.8h0M379.9 355h0M382.4 361.7h0M384.8 359.3h0M370.9 336h0M370.9 339.5h0M370.9 343h0M370.9 346.5h0M370.9 350h0M387.3 348.1h0M387.3 353.1h0M568 280.8h0M570 325.8h0M567 340.8h0M569 349h0M569 355.8h0M573 357h0M578 332.5h0M577 365h0M88.9 248.1h0M88.6 245.7h0M88.8 242.9h0M89 240.6h0M88.7 239.1h0M91.7 236.8h0M93.1 233.4h0M94.4 230.7h0M96.4 231.7h0M97.5 234.2h0M98.7 237.6h0M101 237.9h0M100.9 240.9h0M100.9 243h0M101.5 245.8h0M102.8 248.1h0M89.3 239.4h0M88.7 240.2h0M88.8 238.6h0M90.9 240.5h0M90.6 242.4h0M91.4 242.3h0M93.2 239.1h0M92.7 239.7h0M92.5 242.6h0M92.7 238.1h0M95.3 244.6h0M95.1 241.3h0M95.2 246.8h0M94.7 243.5h0M94.8 235.2h0M97.1 245h0M97.4 241h0M96.7 232.2h0M97 243.1h0M96.8 233.1h0M98.7 243.6h0M98.5 237.8h0M98.8 243.7h0M100.5 239.3h0M101.4 247h0M100.6 241.3h0M101 241.2h0M76.9 241h0M76.8 238h0M76.7 235.4h0M76.8 233h0M77.2 230h0M77.3 227.6h0M77.1 224.7h0M77 222.7h0M78 219.3h0M78.5 216.8h0M76.5 214.5h0M78.1 216.2h0M78.5 218.3h0M78.5 220.8h0M78.6 223.7h0M78.7 225.9h0M78.3 228.6h0M78.6 230.8h0M78.5 233.6h0M78.5 236.1h0M78.6 238.4h0M80.5 241h0M74.7 246h0M74.9 243.9h0M77.4 235.8h0M77.6 223.5h0M77 237.2h0M77 222.1h0M76.9 240.4h0M77.5 238.8h0M77.7 241.1h0M79 238.7h0M78.8 235.3h0M78.8 218h0M79.2 221.1h0M79.6 243.5h0M79.2 222.6h0M57 243h0M60.5 246h0M63 247h0M65.5 244h0M67 240h0M70 246h0M72 242h0M74 245h0M76.5 247h0M79 246h0M82 247h0M84 245h0M86 247h0M73 228h0M75 231h0M62 225h0M64 221h0M61 235h0M65 237h0" fill="none" stroke="#000" stroke-width="3.7" stroke-linecap="round"/>
<path d="M185 51.8h0M186 58h0M188 93h0M183 110h0M185.5 128.8h0M189.2 120.8h0M193 132h0M195 46.8h0M250.1 131h0M250.7 126.4h0M251.6 124.1h0M252.3 121.8h0M251.3 119.4h0M252.3 119.7h0M254.8 123.4h0M259.2 124.8h0M260.1 123h0M263.1 122.3h0M263.3 119.5h0M264.8 122.8h0M268.5 126.3h0M268.5 125.1h0M271 128.6h0M273.3 129.4h0M274.7 129.8h0M277.2 130.8h0M248.4 132.2h0M250.5 126.1h0M250.8 129.2h0M252.6 125.8h0M252.9 128.3h0M252.3 131.3h0M254.4 129h0M254.2 126.3h0M254 128.1h0M256.6 130.6h0M256.3 129.2h0M256.6 128.3h0M258.8 131.1h0M258.5 129.2h0M260.7 128.3h0M261 129.9h0M262.4 128.4h0M262 126.4h0M262.2 123.2h0M264.8 121.9h0M264.2 124.8h0M264.9 121.4h0M266.5 130.7h0M266.8 130.5h0M268.4 128.1h0M268.9 131.3h0M270.2 127.5h0M272.5 130.4h0M274 130.5h0M276.6 131.5h0M252.5 106.5h0M253.5 115.5h0M286.4 132.3h0M286.9 128.9h0M286.8 125.6h0M283.9 123.3h0M288.2 124.4h0M286.7 122.8h0M290.9 124.2h0M292.7 121.1h0M293 117.4h0M293.4 113.7h0M294.1 109.9h0M294.4 106.6h0M294.3 103.2h0M294.2 99.7h0M294.2 96.4h0M294.5 93.4h0M294.3 90h0M294.8 86.5h0M294.7 83.3h0M294.6 80.2h0M294.6 76.7h0M294.8 73.6h0M294.6 70.4h0M295.2 66.8h0M295.4 63.1h0M295.5 59.5h0M292.6 56.7h0M294.7 61.8h0M294.6 65.6h0M295.1 68.8h0M294.8 71.9h0M294.8 75.3h0M294.8 78.7h0M294.9 82.3h0M295.3 85.4h0M294.9 89h0M295 91.9h0M294.8 95.3h0M295.2 98.7h0M295 102h0M294.9 105.2h0M295 108.6h0M295 112h0M295.7 115.6h0M297.2 120.5h0M300.7 120.6h0M301.8 118.5h0M302.6 112.1h0M303.4 108h0M303.8 104.3h0M300.4 100.4h0M301.3 104.2h0M301.6 108.3h0M301.6 112.2h0M302.1 116.3h0M302.7 120.3h0M306.2 124.6h0M307.8 118.3h0M307.9 114.6h0M308.1 111.4h0M306.9 109.9h0M310 108.5h0M308.7 103h0M313.6 108.3h0M315.3 104.7h0M316.2 101.4h0M314 97.6h0M314.8 101.9h0M315.8 107.3h0M320.3 106.9h0M320.5 104h0M320.4 100.2h0M320.6 97h0M320.9 93.6h0M320.9 89.9h0M320.7 86.7h0M321.2 83.3h0M321.2 80.1h0M321.9 75.6h0M322.5 72.2h0M322.8 68.3h0M323 64.8h0M320 61.4h0M322.1 66.2h0M326.3 72.1h0M323.5 69.2h0M324.5 73.5h0M328.2 77.1h0M328.3 74.2h0M328.6 70.7h0M328.8 67.4h0M326.6 65h0M330.4 67.5h0M329.8 65.8h0M331.1 71.4h0M331.6 74.3h0M331.6 77.9h0M332.2 81.2h0M332.3 84.7h0M332.7 88.5h0M333.2 92.4h0M334.4 96.1h0M335.5 101.3h0M339.5 101.1h0M339.4 97.3h0M340.1 93.5h0M339.9 89.5h0M336.8 85.4h0M336.8 89.2h0M337.1 92.5h0M337.3 95.4h0M337.6 98.6h0M337.8 102.6h0M338.8 106.3h0M339.4 110.1h0M340.1 113.5h0M340.4 116.8h0M341 120.6h0M344.8 124.4h0M345.2 120h0M346.3 116.1h0M346.7 112.2h0M347.2 109.1h0M348.3 105.5h0M348.8 102.1h0M349.1 98.6h0M349.3 94.9h0M349.7 91.9h0M350.2 87.9h0M347.4 84.8h0M347.4 88.2h0M347.6 92.1h0M347.9 96h0M348.3 100.5h0M350.4 105.5h0M351 108.5h0M354.4 112.4h0M352.2 110.1h0M352.5 113.7h0M353.5 117.3h0M357.7 121.7h0M358 117.9h0M357.7 114.3h0M357.9 110.8h0M358.3 107.4h0M358.3 103.4h0M357.9 100.2h0M358.5 96.7h0M358.4 93.1h0M358.3 90.3h0M358.6 86.9h0M358.8 83.2h0M358.3 79.8h0M358.6 76.8h0M358.9 73.5h0M358.8 70.3h0M358.9 66.4h0M358.9 62.8h0M359.3 59.1h0M359.7 55.4h0M357.6 53.1h0M359.9 55.3h0M361.2 56.4h0M365.8 58.7h0M366 54.3h0M366.4 50h0M363.5 47h0M365.2 48.7h0M366.5 52.2h0M366.7 56.1h0M367.6 60.2h0M367.4 63.1h0M367.6 66.9h0M367.8 69.9h0M368.1 73.7h0M368 76.5h0M368.2 80h0M368.6 83.2h0M368.8 86.9h0M368.8 89.9h0M369.3 93.3h0M369.3 96.6h0M369.1 100.3h0M369.4 104.1h0M369.8 107.4h0M369.9 111.3h0M370.4 115.4h0M370.3 118.9h0M371.3 124.4h0M372.7 125h0M376.7 126.2h0M376.1 124.5h0M379.7 124.8h0M379.5 120.4h0M382.9 120.7h0M383.4 118.2h0M386 117.2h0M386.8 114.6h0M389.5 111.8h0M389.7 108.4h0M390.3 104.7h0M390.5 101.1h0M390.3 97.9h0M390.7 94h0M387 90.5h0M387.5 94.4h0M387.6 97.7h0M388.3 101.2h0M388.3 105.4h0M389 108.5h0M389 112h0M390.1 116h0M391 119.5h0M391.7 121.9h0M392.2 125.5h0M392 128.9h0M393.9 131.9h0M287.4 129h0M288.5 126h0M293.5 94.7h0M292.8 97.3h0M293 127.2h0M295.3 112.5h0M295.3 115h0M296.8 119.3h0M300.6 117.1h0M302.7 109.6h0M306.8 131.1h0M309.5 113.9h0M310.6 118.8h0M312.9 112.6h0M315.1 121.5h0M317.3 123.4h0M319.3 105.7h0M320.9 115.4h0M320.7 85.4h0M322.7 123.9h0M323.1 87.5h0M325.5 102h0M324.7 120h0M327.5 78.7h0M327 120.9h0M329.4 69.6h0M328.8 74.7h0M328.7 129.8h0M331.4 90.9h0M331.4 95.9h0M333.3 128.3h0M332.6 107.7h0M334.7 106.9h0M334.6 100.5h0M337.1 121.2h0M338.5 106.5h0M340.7 117.5h0M345 114.6h0M346.9 118.9h0M348.6 94.6h0M349.2 105.4h0M350.8 130.2h0M353.1 119.4h0M357.5 93.3h0M356.7 115.2h0M358.5 123.8h0M358.9 117.5h0M361.4 90.5h0M360.7 56.6h0M361.1 104.2h0M362.6 103.5h0M362.9 94.8h0M362.6 78.5h0M365.4 56.6h0M365 115.1h0M365.5 64.1h0M367.4 129.5h0M367 55.1h0M368.9 124.8h0M369.1 119.2h0M368.7 116.5h0M370.9 126.9h0M372.7 126.2h0M385.4 117.4h0M387.3 114.8h0M388.6 115.6h0M389.1 116.7h0M389 94h0M389 104.8h0M349 90.4h0M349 94h0M349 97.6h0M338.6 90.4h0M338.6 97.6h0M443.7 131.5h0M444 128.4h0M444 125h0M443.4 123.5h0M444.7 122.3h0M447.5 122.4h0M450 122.7h0M452.4 122.2h0M454.8 121.9h0M457.3 122.4h0M459.7 122.8h0M462.2 122.8h0M464.6 122.6h0M466.2 122.8h0M467.7 125.4h0M467.8 128.6h0M470.3 131.6h0M441.7 131.3h0M444.5 130.6h0M443.7 129.5h0M444.4 123.2h0M446.3 123.6h0M446.4 124.6h0M446.3 123.4h0M448.4 124.2h0M447.8 126.9h0M447.8 122.6h0M449.7 130.7h0M450.2 130.4h0M449.7 129.4h0M452 128h0M451.9 130.2h0M452.1 127.5h0M453.6 131.2h0M454.1 125.7h0M454.3 124.5h0M454.5 127.4h0M456.3 126.2h0M455.7 128.9h0M455.5 129.6h0M458.1 131.2h0M458.1 128.3h0M457.8 122.3h0M459.6 127.9h0M459.9 127h0M460.4 123.7h0M462.2 122.7h0M461.5 125.6h0M461.6 125.6h0M464.1 127.7h0M463.7 128h0M464 123.7h0M465.7 124.1h0M465.6 128.2h0M466.4 129.5h0M465.9 125.1h0M468.1 127.9h0M467.9 128.5h0M467.9 130.8h0M443 102.5h0M443.5 105.5h0M453.5 113.5h0M454.5 117h0M463.5 113.5h0M464 117h0M478.2 132.2h0M478.8 128.5h0M475.9 124.6h0M480.4 127.3h0M480.8 122.9h0M478.7 118.8h0M482.8 121.7h0M484.8 117.3h0M485.5 113.5h0M483.5 110.3h0M488.1 112.3h0M488.6 109h0M488.6 105.7h0M489.1 102.6h0M489.3 99.5h0M487.6 97.4h0M487.4 96.7h0M487.5 100.1h0M488.1 103.5h0M488.1 107.2h0M491.9 111.3h0M492.1 106.8h0M492.4 103.1h0M489.5 99.5h0M490.4 102.8h0M490.8 106.3h0M495 109.9h0M495.3 106.3h0M495.2 103.5h0M494.3 101.7h0M497.4 106.2h0M500.5 104.3h0M498.8 100.6h0M500.5 104h0M505.3 110.3h0M507.8 106.6h0M508.3 102.8h0M509.2 99.6h0M506.2 96.2h0M511.1 101.4h0M511.4 97.2h0M511.8 93.2h0M509.1 89.3h0M509.4 93.2h0M510 96.6h0M510.2 100.3h0M510.8 104.5h0M511.6 108.5h0M515.5 112.1h0M516 108.2h0M516.5 103.9h0M516.9 101h0M517 99.1h0M521.2 98.3h0M522 94.4h0M519.2 90.4h0M519.8 93.4h0M520 97.4h0M520.3 100.5h0M524 104.3h0M523.7 100.5h0M524.6 97.5h0M524.4 93.7h0M524.6 90.4h0M524.9 87.9h0M522.5 86.2h0M523.7 89.9h0M527.9 94.2h0M528.2 90.8h0M528.7 87.4h0M529 83.5h0M529.3 80.3h0M529.8 77h0M530.3 73.9h0M530.4 70.5h0M530.7 67.4h0M527.8 64.3h0M528.5 67.9h0M529.3 71.3h0M529.6 74.2h0M529.7 77.6h0M529.7 81h0M529.9 84h0M529.8 87.5h0M529.7 90.5h0M530.2 93.4h0M530.3 97h0M533 101.4h0M532.6 99.2h0M532.8 103.5h0M536.3 107.7h0M537.3 102.1h0M539.4 100.2h0M538 98.5h0M541.2 101.5h0M543.8 101.4h0M543.3 99.1h0M543.4 102.6h0M543.7 106h0M543.8 109.6h0M544.4 113.2h0M547.9 116.5h0M547.9 112.6h0M548.3 109h0M548.6 104.7h0M545.4 101.4h0M545.6 104.1h0M545.7 107.3h0M545.9 111h0M546.5 114.1h0M550.2 117.4h0M550.4 113.9h0M550.6 110.6h0M550.8 107.2h0M550.8 103.8h0M551.1 100.5h0M547.8 97.1h0M552 103.7h0M554.9 100.6h0M553.2 94.4h0M554 97.6h0M554.2 100.8h0M554.9 104.6h0M558.8 108.7h0M558.6 106h0M558.9 109.8h0M562.5 113.9h0M563.1 110.5h0M563.3 106.6h0M563.5 103.5h0M564.1 100.3h0M561.4 97.7h0M565.5 97.8h0M565.8 94.2h0M565.9 90.8h0M566.6 87.6h0M563.6 84.3h0M563.9 87.7h0M563.8 91.3h0M564.3 94.6h0M567.8 98.2h0M569.7 95.9h0M568.1 92h0M572 98.2h0M570 94.4h0M571.6 100.2h0M572.3 103.7h0M572.4 106.5h0M574.1 111.2h0M575.1 111.2h0M579.8 116.3h0M580.1 113h0M579.9 109.4h0M580.5 106h0M577.4 102.5h0M578.2 105.9h0M578.8 109.2h0M579.3 112.3h0M580.5 116.7h0M581.5 120.3h0M581.7 123.5h0M585.8 127.8h0M583.5 124h0M583.6 128.4h0M585.7 132.1h0M480.4 128.1h0M482.9 129.2h0M484 117.4h0M486.6 128.2h0M488 125.9h0M488.8 127h0M490.3 127.8h0M492.7 129.4h0M494.1 119h0M496.2 124.9h0M498.2 121.4h0M500.5 107.9h0M502.8 126.3h0M504.1 127.4h0M506.2 120.4h0M508.9 116.2h0M508.5 118.4h0M510.2 98.1h0M512.4 119.7h0M514.5 112.8h0M517 112h0M518.6 124.7h0M520.6 107h0M522 101.1h0M524.9 109h0M524.6 99.1h0M526.4 129.3h0M526.8 124.1h0M528.3 76.4h0M528.2 84.6h0M530.1 104.2h0M530.9 98.1h0M532.9 103.2h0M532.6 113.3h0M535 111.8h0M536.6 130.2h0M538.4 114.1h0M541 131.2h0M542 109.2h0M544.9 128.6h0M546 127.1h0M548.6 131.3h0M550.1 124.2h0M552.7 110.9h0M552.6 124.4h0M554.3 105.9h0M556.5 109.9h0M558.1 124.1h0M562.2 99.2h0M564.2 128.9h0M564.9 127.2h0M566.4 102.2h0M568.8 118.1h0M568.5 107.7h0M570.5 119.3h0M570.1 105.9h0M572.7 117.2h0M576.3 120.1h0M580.8 117.9h0M488.9 74.8h0M489 78.4h0M490 83.2h0M490.5 90.4h0M489 95.2h0M500.4 94h0M517.7 50.8h0M517.7 58h0M518 89.2h0M529.7 59.2h0M529.5 78.4h0M530 68h0M555 74.8h0M555 91.6h0M563 91.6h0M571 46.5h0M572 86.8h0M579 108.4h0M47.8 208.8h0M48.1 222.7h0M45.8 227.9h0M48.8 227.9h0M55.6 229.2h0M56.2 234.4h0M53 237h0M53.6 239.5h0M49.7 242.9h0M51 246.1h0M58.2 218.8h0M59.5 220.8h0M59 224h0M59.5 227h0M58.8 230h0M59.5 233h0M60 236h0M59 239h0M60 242h0M59.5 245h0M61 247.5h0M62 230h0M64 232h0M66 233h0M68 235h0M70 236h0M72.5 235h0M63 240h0M64 244h0M66 246h0M62.5 247.8h0M67.5 215h0M68.5 218h0M67 221h0M68.5 224h0M67.5 227h0M69 230h0M68 238h0M69.9 244.2h0M68 247h0M71 240h0M72 245.8h0M74 247h0M81.3 244.3h0M80 240.4h0M87.5 233.4h0M85.2 217.9h0M86 221h0M84.5 224h0M86.5 227h0M85.5 229.5h0M89.5 245h0M91 247h0M94 246h0M97 247.5h0M76.8 241.3h0M76.7 238.1h0M76.7 234.9h0M77.2 231.4h0M77.1 228.2h0M77 225h0M77.1 222.7h0M78.2 219.8h0M78.5 216.5h0M76.8 214.1h0M78.4 215.9h0M78.7 218.9h0M78.6 222.2h0M78.3 225.1h0M78.7 228.5h0M78.4 231.6h0M78.9 234.6h0M78.8 237.7h0M80.3 241.2h0M74.9 242.9h0M77.3 232.2h0M77 223.5h0M77.3 238.5h0M77.5 234.8h0M78.8 239.1h0M79.1 238.7h0M78.8 241.5h0M79 242.4h0M84.9 229.1h0M84.6 226.3h0M85 223.3h0M84.7 220.9h0M84.3 219.1h0M85.6 220.1h0M86.1 222.9h0M86.4 226.1h0M88.3 228.8h0M85.4 223h0M85.2 223.6h0M86.6 228.9h0M87.5 225.5h0M88.3 248.1h0M88.3 244.4h0M88.6 239.8h0M85.8 237.4h0M88.5 239.3h0M90 239.1h0M92.8 237.8h0M92.4 234.5h0M94.4 233.8h0M93.2 230.1h0M97.2 233.9h0M96 232.5h0M96.2 232.4h0M99 238.5h0M102 240h0M104.2 238.3h0M104.4 235h0M104.2 231.2h0M104.8 228.1h0M104.9 224.8h0M104.7 221.5h0M104.8 218.6h0M105.2 215.1h0M105.5 211.1h0M105.6 207.4h0M105.9 204.3h0M104.8 201.8h0M106.2 202.9h0M107 207.4h0M107.1 211.4h0M107.8 215h0M107.9 219h0M108 222.7h0M108 226h0M108.5 229.6h0M108.5 233.7h0M112.2 237.2h0M112.2 233.5h0M112.4 230.1h0M112.9 226.8h0M112.8 223.3h0M112.9 220.1h0M113 216.6h0M112.9 213.6h0M113.2 210h0M113.6 205.5h0M113.1 202.2h0M113.7 201.3h0M114.1 201.4h0M114.8 205.6h0M116 210h0M116.3 214.4h0M117 217.9h0M117 221.7h0M117.3 225.2h0M117.5 228.6h0M118 231.6h0M118.5 235.5h0M123.8 239.2h0M124.9 234.9h0M125.4 230.8h0M123.3 229h0M124.5 232h0M124.8 236.2h0M125.7 241.4h0M128.1 242.8h0M131 242.3h0M133.1 239.8h0M133.1 237h0M133.3 233.6h0M133.3 230.3h0M133.5 227.1h0M133.6 223.5h0M133.7 220.4h0M133.7 217.4h0M133.7 214.6h0M132.3 211.8h0M133.3 214.3h0M133 217.2h0M133 220.7h0M133.5 223.8h0M133.4 227.3h0M133.7 230.3h0M133.9 233.7h0M134.5 238.1h0M137.2 239.7h0M140.3 237.1h0M140 233.5h0M140.1 230.3h0M140.2 227.2h0M140.1 223.8h0M140.5 220.5h0M140.7 217.5h0M140.6 214h0M140.5 211h0M140.5 207.3h0M140.8 204.5h0M140.5 200.8h0M140.9 197.9h0M140.5 194.4h0M140.5 191.5h0M140.6 188.3h0M141 184.5h0M141 181.7h0M141.5 178.5h0M141.7 174.7h0M142.5 171.6h0M142.9 168.5h0M140.9 163.1h0M141.3 167.5h0M144.7 172.4h0M142.8 166.4h0M144.5 171.8h0M144.4 175h0M144.5 178.7h0M144.3 181.8h0M144.8 185.1h0M144.6 188.1h0M144.4 191.5h0M144.7 194.6h0M144.7 197.9h0M145.1 201.7h0M145 204.9h0M145.3 208.6h0M149.2 212.1h0M149.2 208.9h0M149.5 205.2h0M150.1 201.4h0M148.2 198.6h0M148.8 198.4h0M153.5 203.1h0M152 198.6h0M152.4 201.6h0M156.7 204.8h0M154.1 199.3h0M155.6 205.2h0M155.9 208.3h0M156 212.1h0M156.2 215.4h0M156.2 218.8h0M156.9 222.7h0M159.7 227h0M161.5 224.5h0M161.1 221h0M161.4 217.3h0M161.7 213.7h0M162 210.6h0M162 207.3h0M162.1 203.4h0M162 200h0M162.4 196.4h0M162.8 193.1h0M160.8 191.6h0M162.5 195.3h0M162.2 198.8h0M162.8 202.4h0M162.6 205.6h0M163.1 209.2h0M162.9 213h0M163.1 216.7h0M163.1 219.8h0M163.6 224.1h0M164 228h0M164.3 232h0M165.5 237.1h0M168.8 236.7h0M169.6 235h0M171.3 234h0M173.5 232h0M171.5 229.8h0M176.2 232.3h0M178 229.7h0M178.2 226.9h0M178.2 223.2h0M178 219.9h0M178.2 216.4h0M178.2 213h0M178.5 209.8h0M178.7 206h0M178.4 202.8h0M178.7 199.3h0M178.4 196.4h0M176.9 192.3h0M182 198.5h0M182.3 195.1h0M182.6 191.5h0M179.5 188h0M184 192.8h0M184.3 189.3h0M181.9 185.9h0M185.7 192.5h0M183.7 190.4h0M184 194h0M184.9 198.2h0M185.1 202.2h0M185.4 205.4h0M185.5 208.8h0M185.7 212h0M185.6 215.2h0M186.2 218.8h0M185.9 222.7h0M190.6 225.8h0M190.8 222.7h0M190.9 219.6h0M190.8 216.3h0M190.9 213.1h0M191.3 209.6h0M191.2 206.3h0M191.4 203.5h0M191.5 200.2h0M191.8 196.2h0M192.1 193h0M191.7 189.5h0M192 185.5h0M192.2 183h0M191.3 181.3h0M192.5 180.9h0M192.5 184.6h0M192.8 188.2h0M193.3 191.6h0M193.9 195h0M194.1 198.5h0M194.2 201.8h0M194.4 205.4h0M194 208.7h0M194.2 212.1h0M194.5 215.5h0M194.3 218.6h0M197.7 223.4h0M198.3 221.4h0M198.5 220.1h0M199.8 224.2h0M199.6 227.7h0M200 230.7h0M199.8 234.3h0M200.3 237.8h0M199.9 240.9h0M200 244.8h0M201.8 248h0M88.4 240.1h0M90.5 244.7h0M92.9 234.6h0M100.8 239.8h0M104.7 221.3h0M104.5 211.3h0M106.4 241.6h0M106.6 206h0M108.2 243.3h0M112.2 218.7h0M114.6 219.3h0M114.4 201.8h0M116.3 206.4h0M116.5 246.7h0M118.1 238.2h0M124.3 240.2h0M129 242.7h0M132.9 240h0M134.6 226.6h0M138.9 246.8h0M140.3 229.8h0M140.7 210.9h0M140.6 199.2h0M142.4 170.1h0M142.3 191.7h0M143 204.7h0M144.2 186.2h0M144.3 178.3h0M144 237h0M146.4 226.7h0M146.3 207.6h0M148.3 216.3h0M150.6 244.3h0M150.3 243.5h0M152.1 210.2h0M152.6 246.7h0M154.8 222.4h0M156.1 224.2h0M156.9 214.9h0M158 230.8h0M160.7 211.5h0M162.2 225.6h0M162.9 228h0M164.7 245.9h0M166.1 245.4h0M168.3 237.3h0M172.9 241.6h0M174.2 237.2h0M176.6 230.3h0M178.3 197h0M178.4 196.4h0M180.3 220.6h0M180.6 208.1h0M182 243.2h0M182.6 246.6h0M184.6 232.3h0M186.1 207h0M186.1 236.2h0M190.4 217.9h0M190.6 218.9h0M190.7 221.9h0M192.7 198.7h0M192.7 231.8h0M194.3 233.6h0M195 214.4h0M196.5 245.9h0M198 233.7h0M200.8 231.6h0M191.8 171.5h0M114.2 193.8h0M249.9 200.9h0M249.9 206.8h0M249.9 213.8h0M253.2 219.8h0M252.7 224.9h0M254 226h0M254.9 229.9h0M255.4 232.7h0M252.7 237.8h0M255.7 237.8h0M257.1 221.9h0M259.1 205.4h0M259.9 206.4h0M262.1 218.5h0M262.1 229.4h0M262.1 236.6h0M265.8 209.3h0M266.6 210.1h0M265.8 231h0M268.3 232.7h0M270.8 231.9h0M270 192.5h0M269.1 197.6h0M270 202.6h0M271.6 209.8h0M275 211h0M275.8 203.8h0M273.3 217.7h0M274.5 221.5h0M273.8 226.9h0M272.8 229.4h0M272.1 247.8h0M294.5 169.7h0M293.8 172.6h0M295 180.2h0M294.3 189.9h0M294.3 197.2h0M294.5 203.2h0M293.8 208.7h0M292.6 215.2h0M294.3 216.3h0M293.8 219.3h0M289.2 227.8h0M286.9 230.1h0M288 232.4h0M290.3 230.1h0M292 234.7h0M291.5 239.3h0M290.3 246.2h0M291.5 246.9h0M375 186.2h0M376.5 163.8h0M375.5 165.5h0M377 215h0M380 222.5h0M378 230h0M380.5 234.5h0M379.5 236.2h0M445.1 215.8h0M445.1 225.6h0M446 229h0M446.5 232h0M445.5 236h0M446 239h0M445 241.5h0M442.8 248.7h0M443.4 245h0M444.5 243.3h0M445 242.5h0M449.2 243h0M451.3 241.3h0M451.7 238.1h0M454.4 241.8h0M458 241.9h0M458.4 240.4h0M462.4 241.3h0M462.4 237.8h0M464 242.2h0M465.7 244.4h0M467.9 246.3h0M469.7 248.6h0M442.5 246.5h0M442.8 247.7h0M445 244.2h0M444.7 244.3h0M444.8 244.2h0M447.2 246.2h0M446.7 248h0M449 243.4h0M449.3 247.3h0M451.2 246.7h0M450.7 243.2h0M450.9 247.2h0M453.1 244.5h0M452.9 244.3h0M453.3 241.1h0M454.8 246.5h0M455.3 242.6h0M455.3 248h0M456.4 243.1h0M457.4 242.5h0M458.6 246h0M458.5 241.8h0M459.1 241.3h0M461.3 246.1h0M461.3 247.9h0M460.4 243h0M463.1 240.1h0M462.9 241.7h0M462.8 240.7h0M462.4 247.9h0M465.3 242.9h0M464.9 243h0M466.6 246.9h0M466.5 247.1h0M468.5 247.1h0M478 249.1h0M479 244.9h0M481 240.4h0M481.4 236.3h0M482.4 232.2h0M483.1 228.3h0M484 224.1h0M484.3 220.7h0M483.4 216.5h0M485.2 220.4h0M486.4 224.5h0M487.2 227.9h0M487.6 231.6h0M487.7 235h0M488.2 238.2h0M492.4 243.7h0M492.8 238.4h0M493.6 234.2h0M494 231.1h0M492.5 228.3h0M493.9 231.1h0M494.2 235.9h0M494.6 240.3h0M499.1 245.2h0M500.2 240.1h0M500.6 236.7h0M500.8 233.1h0M500.7 229.7h0M501.2 226.5h0M502.1 222.6h0M502.3 219.6h0M501 217.5h0M502.1 220.5h0M503 223.4h0M503.8 227.1h0M504.4 230.3h0M508.8 232.9h0M509.2 229.9h0M509.8 226.7h0M510.5 222.1h0M510 220.1h0M512.2 222.6h0M514.9 227h0M518.8 226h0M519.7 221.2h0M520.3 219.9h0M520.8 219.4h0M523 221.4h0M523.1 224.7h0M523.4 228.6h0M524 232.1h0M524.3 236.2h0M527.7 241.1h0M529 238.5h0M529.7 233.9h0M529.9 230.8h0M529.7 226.8h0M531.2 227.1h0M532.1 231.1h0M532.7 235.4h0M533.1 238.8h0M533.7 242.5h0M537.3 246.3h0M538.6 242.3h0M538.9 238.4h0M539.4 234.3h0M539.9 230.7h0M540.9 225.6h0M540.8 224.6h0M542.5 224.6h0M544.1 230.4h0M544.5 234.4h0M544.9 237.9h0M548.7 242.7h0M549.4 238.3h0M549.5 234.1h0M549.9 230.3h0M549.9 226.7h0M550.6 223.4h0M551.1 220.3h0M548.2 218.1h0M552.1 220.6h0M555.2 218.5h0M555.9 214.5h0M556.1 211.3h0M557.5 208.8h0M558.2 208.3h0M560.9 211.9h0M561 215.4h0M561.1 219.4h0M561.3 223h0M561.3 226.7h0M561.5 230.4h0M562.4 233.8h0M562.5 236.7h0M562.8 240.8h0M565.9 245.6h0M569.7 243.9h0M571.1 239h0M570.4 236.1h0M571.7 237.6h0M573.5 240.5h0M577.1 245.2h0M577.3 241.7h0M578.2 238.3h0M578.4 235.4h0M578.6 231.6h0M577.2 229.2h0M579.2 229.8h0M581 232.2h0M581.3 236.3h0M582.1 240.3h0M583.1 244.6h0M585.3 248.2h0M480.1 241.9h0M482.4 239.9h0M484.2 246.3h0M486.8 244.5h0M488.1 229.3h0M490.1 246.2h0M492.1 239.2h0M500.2 233h0M502.1 225.8h0M504.5 245.4h0M508.5 243.4h0M510.7 227.6h0M512.2 229.1h0M516.5 233.1h0M518.1 236.8h0M520.6 241.9h0M522.1 226.9h0M525 223.6h0M528.8 237.1h0M530.5 246.4h0M534.4 242.3h0M540.7 228.6h0M542.1 229.5h0M549 243.7h0M550.5 241.7h0M552.8 237.8h0M554.6 242.8h0M556.1 237.2h0M556.3 216h0M558.7 238h0M558.1 241.3h0M560.9 238.3h0M560.8 240.5h0M562.4 242h0M564.9 243.4h0M566.5 247.8h0M570.8 240.6h0M572.2 239.6h0M578.9 242.2h0M580.4 244.2h0M582.7 247.2h0M584.4 245.1h0M510.9 195.9h0M510.9 203.6h0M511 219.5h0M518.6 206.7h0M518.6 214.8h0M530.6 211.7h0M530.6 219.1h0M530.6 225.3h0M548.8 180.8h0M549 208.5h0M549 216.8h0M558.7 163.2h0M558.7 167.4h0M559.5 175.6h0M560.5 180.3h0M561 185h0M561 192.1h0M561 199.1h0M561 200.3h0M578.2 225h0M58.5 363.4h0M61.6 285.9h0M61.6 313.6h0M61.6 328.9h0M62.5 335.9h0M59.7 354.7h0M63.2 364.3h0M63.2 360.7h0M63.5 357h0M63.6 353.7h0M63.9 350.2h0M64.1 347h0M64.3 344h0M63.7 341.4h0M67.7 341.3h0M68.3 338h0M68.5 334.2h0M68.4 331.5h0M68.9 330.8h0M69.4 329.6h0M70.9 328.9h0M71.4 335.2h0M71.8 338.6h0M72.1 342.3h0M72.1 346.1h0M74.8 353.8h0M74.5 352.5h0M79.1 358.3h0M79.4 354.9h0M79.3 351.3h0M79.6 348.4h0M79.8 344.8h0M79.6 341.6h0M80.1 338.1h0M80.1 335h0M80.2 331.7h0M79.5 330h0M80.4 329.5h0M80.6 328.6h0M81.4 331.8h0M81.4 335h0M81.3 338.2h0M81.6 341.5h0M81.9 344.7h0M81.6 348.4h0M81.8 351.7h0M81.9 354.9h0M81.9 358.3h0M84.7 362.7h0M88.7 361.2h0M89 357.4h0M88.8 354.3h0M89 350.4h0M89.2 346.9h0M89.4 343.3h0M89.5 340.2h0M89.4 337h0M89.6 333.3h0M88.9 331.5h0M89.9 330.6h0M90.3 329.8h0M90.4 332.8h0M91 336.4h0M91.3 339.8h0M91.7 343.1h0M92.1 347.2h0M95.1 352.8h0M98.4 350.9h0M98.1 347.8h0M98.3 344.2h0M98.5 340.9h0M98.2 337.2h0M98.2 333.8h0M98.5 330.6h0M98.7 327h0M98.6 323.5h0M98.6 320.2h0M99 316.9h0M98.7 313.5h0M99.1 310h0M99.3 306.9h0M99.3 303.6h0M99.3 300.4h0M99.5 296.3h0M100 293h0M99.7 290.2h0M100.9 290.5h0M101.7 294.9h0M101.7 298.1h0M102.1 302h0M102.2 305h0M102.3 308.1h0M102.4 311.6h0M102 315.1h0M102.2 318.7h0M102.3 322.5h0M102.8 326.5h0M102.6 330.3h0M102.9 333.7h0M103.4 337.5h0M103.5 341.4h0M103.6 345.4h0M104.1 348.9h0M108.4 352.3h0M108.4 348.9h0M107.7 346.6h0M108.5 344.8h0M112.5 347.1h0M111 345.2h0M113.7 348.2h0M114.6 347.4h0M115.6 351.4h0M116.1 355h0M116.4 359.4h0M118.2 363.8h0M63.7 353.5h0M63.3 347.7h0M65.3 346.7h0M65.7 354.2h0M67.2 355.4h0M67.2 340.5h0M69.7 364.5h0M69.7 363.7h0M69.9 355.6h0M71.1 337.3h0M71 360.7h0M71.7 352.4h0M73.4 345.8h0M76 357.2h0M79.4 361.9h0M79.8 346h0M81.1 335h0M81.8 346.5h0M83.9 363.1h0M87.1 347.2h0M87.6 355.4h0M89.3 331.6h0M89.9 355.5h0M92 346h0M91.7 344.1h0M91.8 360h0M93 351.7h0M95.4 352.8h0M97.8 331.2h0M97 358.4h0M97.5 306h0M97.3 341.5h0M97.9 332.5h0M99.2 309.9h0M99.9 320.2h0M99.1 335.5h0M99.1 306.8h0M99.5 335.1h0M101.7 323.7h0M101.1 345h0M101.1 326.1h0M101.4 341.1h0M101.7 308.8h0M103.7 329h0M103.1 359.2h0M103.6 300.8h0M103.2 364.6h0M103.2 323.6h0M105.8 358.5h0M105.7 347.2h0M108 361.8h0M109 350.6h0M111.2 359.4h0M111.9 358.7h0M113.3 350.1h0M113 361.1h0M116 360.5h0M70.3 293.6h0M70.3 300h0M70.3 306.1h0M70.3 311.7h0M70.3 317.8h0M70.3 324.2h0M100.6 280.2h0M100.6 286.6h0M101.8 291.3h0M99.4 304.2h0M101.8 305.4h0M102.5 311.3h0M108.3 318.3h0M108.3 338.3h0M109.5 339.5h0M183 358.2h0M185 359.5h0M186 352.5h0M188 334.5h0M189 351.5h0M188 359.5h0M193 362.5h0M195 355.8h0M237.5 364.5h0M238.7 362.9h0M239.8 364.5h0M242.7 363.9h0M245.4 364.6h0M246.6 363h0M248 364.5h0M249.2 362.4h0M250.7 364.1h0M251.9 362.4h0M253.5 363.9h0M256.3 364.3h0M257.5 363h0M258.7 364.2h0M259.9 363.3h0M261.3 364.2h0M262.5 363.1h0M264.2 364.6h0M265.4 362.7h0M266.6 364.5h0M267.8 362.9h0M269.6 364.5h0M270.8 362.5h0M271.9 364.5h0M273.1 362.9h0M274.5 364.2h0M277.2 364.6h0M280 364.6h0M282.8 363.9h0M285.7 364.2h0M288 364.7h0M289.2 363h0M290.4 364.1h0M291.6 362.7h0M292.7 364.3h0M295.4 364.6h0M298.3 364.7h0M300.7 364.1h0M301.9 362.4h0M303.1 364.6h0M305.6 364.5h0M308.5 364.5h0M309.7 362.5h0M311.3 364.2h0M313.8 364.3h0M316.2 364.3h0M318.8 364.7h0M320 363.2h0M321.6 364.7h0M322.8 362.6h0M324 364.6h0M325.2 362.6h0M326.8 364.7h0M328 362.8h0M329.5 364.5h0M332.3 364.1h0M333.5 362.4h0M335.1 364.1h0M336.3 363.3h0M337.8 364.4h0M340.5 364.5h0M341.7 362.5h0M342.7 363.9h0M343.9 362.5h0M347.6 364.7h0M350 364.5h0M351.2 362.5h0M352.5 364.2h0M355 364.5h0M356.2 363.2h0M357.5 364.6h0M358.7 363.1h0M359.9 364.6h0M362.6 364.1h0M363.8 362.6h0M365.5 364h0M368.2 364.4h0M369.4 362.5h0M370.5 364.7h0M371.7 363h0M373.1 364.1h0M374.3 362.4h0M376 364h0M378.5 364.5h0M379.7 363.1h0M380.9 364.2h0M382.1 362.5h0M383.3 364.5h0M384.5 362.7h0M386.1 364.1h0M387.3 362.6h0M388.6 364.2h0M391.2 364.6h0M392.4 363h0M241 362h0M247 361.5h0M252 362h0M262 362h0M298 361.5h0M305 360.8h0M312 362h0M338 358.3h0M341 359.5h0M354 359.5h0M362 362h0M366 361h0M268 361.9h0M268.5 358.7h0M268.8 355.9h0M268.8 352.6h0M269.8 349.4h0M270.3 346.9h0M268.6 344.9h0M269.7 346.3h0M270.6 349.3h0M274 352.1h0M274.9 348.8h0M275.4 345.5h0M275.9 341.5h0M274.8 339.7h0M275.2 338.1h0M276 341.4h0M276.1 344.8h0M277.1 348.2h0M277.2 350.7h0M277.4 353.7h0M277.5 356.7h0M277.9 359.2h0M280.3 362h0M268.7 356.4h0M270.5 358.6h0M272.2 358h0M274.7 342.9h0M274.8 361.7h0M276.9 348.1h0M276.9 343.8h0M278.6 361.7h0M275.4 280.5h0M275.5 283h0M275.3 286h0M275.7 289.5h0M275.4 293h0M275.5 296.5h0M275.9 300h0M275.8 303.5h0M276.1 307h0M275.6 310.5h0M275.8 314h0M275.3 317.5h0M276.1 321h0M275.5 324.5h0M275.7 328h0M275.7 331.5h0M276.1 335h0M275.6 280.2h0M276.5 283h0M287.8 348.9h0M368 362.6h0M368.6 358.6h0M369.1 355.8h0M370.2 354.4h0M371.7 353.3h0M371.9 351.6h0M376 351.4h0M376.5 348.5h0M378.2 350.7h0M379.9 355.3h0M381.6 356.6h0M384.4 358.8h0M386.8 358.2h0M385.4 356.5h0M385.8 359h0M388 362h0M365.9 363.4h0M368.4 358.9h0M370.7 359.8h0M372.8 354.6h0M372.7 356.2h0M374.7 352.7h0M376.1 354.1h0M378.7 355h0M378.3 360.9h0M380.5 357.8h0M379.9 355h0M382.4 361.7h0M384.8 359.3h0M370.9 336h0M370.9 339.5h0M370.9 343h0M370.9 346.5h0M370.9 350h0M387.3 348.1h0M387.3 353.1h0M568 280.8h0M570 325.8h0M567 340.8h0M569 349h0M569 355.8h0M573 357h0M578 332.5h0M577 365h0M88.9 248.1h0M88.6 245.7h0M88.8 242.9h0M89 240.6h0M88.7 239.1h0M91.7 236.8h0M93.1 233.4h0M94.4 230.7h0M96.4 231.7h0M97.5 234.2h0M98.7 237.6h0M101 237.9h0M100.9 240.9h0M100.9 243h0M101.5 245.8h0M102.8 248.1h0M89.3 239.4h0M88.7 240.2h0M88.8 238.6h0M90.9 240.5h0M90.6 242.4h0M91.4 242.3h0M93.2 239.1h0M92.7 239.7h0M92.5 242.6h0M92.7 238.1h0M95.3 244.6h0M95.1 241.3h0M95.2 246.8h0M94.7 243.5h0M94.8 235.2h0M97.1 245h0M97.4 241h0M96.7 232.2h0M97 243.1h0M96.8 233.1h0M98.7 243.6h0M98.5 237.8h0M98.8 243.7h0M100.5 239.3h0M101.4 247h0M100.6 241.3h0M101 241.2h0M76.9 241h0M76.8 238h0M76.7 235.4h0M76.8 233h0M77.2 230h0M77.3 227.6h0M77.1 224.7h0M77 222.7h0M78 219.3h0M78.5 216.8h0M76.5 214.5h0M78.1 216.2h0M78.5 218.3h0M78.5 220.8h0M78.6 223.7h0M78.7 225.9h0M78.3 228.6h0M78.6 230.8h0M78.5 233.6h0M78.5 236.1h0M78.6 238.4h0M80.5 241h0M74.7 246h0M74.9 243.9h0M77.4 235.8h0M77.6 223.5h0M77 237.2h0M77 222.1h0M76.9 240.4h0M77.5 238.8h0M77.7 241.1h0M79 238.7h0M78.8 235.3h0M78.8 218h0M79.2 221.1h0M79.6 243.5h0M79.2 222.6h0M57 243h0M60.5 246h0M63 247h0M65.5 244h0M67 240h0M70 246h0M72 242h0M74 245h0M76.5 247h0M79 246h0M82 247h0M84 245h0M86 247h0M73 228h0M75 231h0M62 225h0M64 221h0M61 235h0M65 237h0" fill="none" stroke="#8a8a8a" stroke-width="1.0" stroke-linecap="round"/>
</svg></body></html>
